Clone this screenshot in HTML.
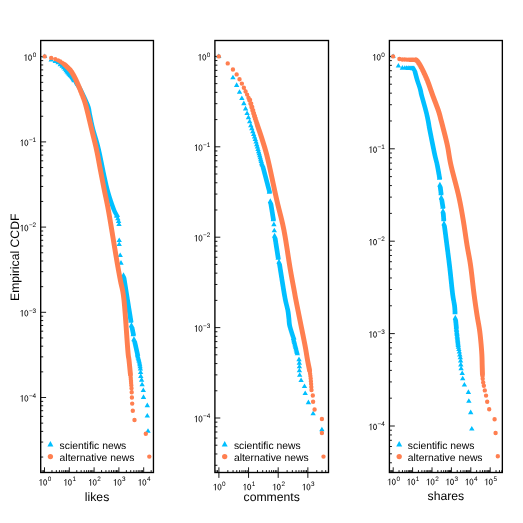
<!DOCTYPE html>
<html><head><meta charset="utf-8"><title>Empirical CCDF</title>
<style>
html,body{margin:0;padding:0;background:#fff;}
svg{display:block;}
text{font-family:"Liberation Sans", sans-serif;fill:#000;text-rendering:geometricPrecision;filter:grayscale(1);}
.t{font-size:9.30px}.s{font-size:6.50px}.g{font-size:10.35px}.a{font-size:12.20px}
</style></head><body>
<svg width="523" height="523" viewBox="0 0 523 523">
<rect width="523" height="523" fill="#fff"/>
<path d="M42.10 472.50V470.10M43.37 472.50V470.10M44.50 472.50V467.30M51.97 472.50V470.10M56.33 472.50V470.10M59.43 472.50V470.10M61.83 472.50V470.10M63.80 472.50V470.10M65.46 472.50V470.10M66.90 472.50V470.10M68.17 472.50V470.10M69.30 472.50V467.30M76.77 472.50V470.10M81.13 472.50V470.10M84.23 472.50V470.10M86.63 472.50V470.10M88.60 472.50V470.10M90.26 472.50V470.10M91.70 472.50V470.10M92.97 472.50V470.10M94.10 472.50V467.30M101.57 472.50V470.10M105.93 472.50V470.10M109.03 472.50V470.10M111.43 472.50V470.10M113.40 472.50V470.10M115.06 472.50V470.10M116.50 472.50V470.10M117.77 472.50V470.10M118.90 472.50V467.30M126.37 472.50V470.10M130.73 472.50V470.10M133.83 472.50V470.10M136.23 472.50V470.10M138.20 472.50V470.10M139.86 472.50V470.10M141.30 472.50V470.10M142.57 472.50V470.10M143.70 472.50V467.30M151.17 472.50V470.10M40.70 457.05H43.20M40.70 442.05H43.20M40.70 431.40H43.20M40.70 423.15H43.20M40.70 416.40H43.20M40.70 410.70H43.20M40.70 405.76H43.20M40.70 401.40H43.20M40.70 397.50H46.10M40.70 371.85H43.20M40.70 356.85H43.20M40.70 346.20H43.20M40.70 337.95H43.20M40.70 331.20H43.20M40.70 325.50H43.20M40.70 320.56H43.20M40.70 316.20H43.20M40.70 312.30H46.10M40.70 286.65H43.20M40.70 271.65H43.20M40.70 261.00H43.20M40.70 252.75H43.20M40.70 246.00H43.20M40.70 240.30H43.20M40.70 235.36H43.20M40.70 231.00H43.20M40.70 227.10H46.10M40.70 201.45H43.20M40.70 186.45H43.20M40.70 175.80H43.20M40.70 167.55H43.20M40.70 160.80H43.20M40.70 155.10H43.20M40.70 150.16H43.20M40.70 145.80H43.20M40.70 141.90H46.10M40.70 116.25H43.20M40.70 101.25H43.20M40.70 90.60H43.20M40.70 82.35H43.20M40.70 75.60H43.20M40.70 69.90H43.20M40.70 64.96H43.20M40.70 60.60H43.20M40.70 56.70H46.10" fill="none" stroke="#000" stroke-width="0.9"/>
<path d="M62.01 63.37l2.50 4.50h-5.00zM63.51 64.81l2.50 4.50h-5.00zM64.80 66.23l2.50 4.50h-5.00zM65.94 67.73l2.50 4.50h-5.00zM66.96 68.94l2.50 4.50h-5.00zM67.88 70.02l2.50 4.50h-5.00zM68.73 70.98l2.50 4.50h-5.00zM69.50 71.84l2.50 4.50h-5.00zM70.22 72.56l2.50 4.50h-5.00zM70.89 73.15l2.50 4.50h-5.00zM71.51 73.79l2.50 4.50h-5.00zM72.10 74.59l2.50 4.50h-5.00zM72.65 75.47l2.50 4.50h-5.00zM73.18 76.32l2.50 4.50h-5.00zM73.67 77.10l2.50 4.50h-5.00zM74.15 77.85l2.50 4.50h-5.00zM75.95 78.56l2.50 4.50h-5.00zM76.35 79.21l2.50 4.50h-5.00zM76.54 79.50l2.50 4.50h-5.00zM76.73 79.80l2.50 4.50h-5.00zM76.92 80.10l2.50 4.50h-5.00zM77.11 80.39l2.50 4.50h-5.00zM77.30 80.69l2.50 4.50h-5.00zM77.49 80.98l2.50 4.50h-5.00zM77.69 81.28l2.50 4.50h-5.00zM77.88 81.57l2.50 4.50h-5.00zM78.09 81.87l2.50 4.50h-5.00zM78.29 82.16l2.50 4.50h-5.00zM78.51 82.45l2.50 4.50h-5.00zM78.73 82.74l2.50 4.50h-5.00zM78.96 83.03l2.50 4.50h-5.00zM79.19 83.32l2.50 4.50h-5.00zM79.41 83.60l2.50 4.50h-5.00zM79.63 83.88l2.50 4.50h-5.00zM79.84 84.17l2.50 4.50h-5.00zM80.04 84.45l2.50 4.50h-5.00zM80.23 84.73l2.50 4.50h-5.00zM80.40 85.02l2.50 4.50h-5.00zM80.57 85.30l2.50 4.50h-5.00zM80.73 85.59l2.50 4.50h-5.00zM80.88 85.89l2.50 4.50h-5.00zM81.02 86.18l2.50 4.50h-5.00zM81.18 86.48l2.50 4.50h-5.00zM81.31 86.78l2.50 4.50h-5.00zM81.45 87.08l2.50 4.50h-5.00zM81.60 87.39l2.50 4.50h-5.00zM81.75 87.69l2.50 4.50h-5.00zM81.89 88.00l2.50 4.50h-5.00zM82.03 88.31l2.50 4.50h-5.00zM82.19 88.62l2.50 4.50h-5.00zM82.34 88.93l2.50 4.50h-5.00zM82.49 89.24l2.50 4.50h-5.00zM82.64 89.55l2.50 4.50h-5.00zM82.79 89.86l2.50 4.50h-5.00zM82.94 90.17l2.50 4.50h-5.00zM83.09 90.49l2.50 4.50h-5.00zM83.24 90.80l2.50 4.50h-5.00zM83.39 91.11l2.50 4.50h-5.00zM83.54 91.43l2.50 4.50h-5.00zM83.69 91.74l2.50 4.50h-5.00zM83.83 92.06l2.50 4.50h-5.00zM83.98 92.37l2.50 4.50h-5.00zM84.13 92.69l2.50 4.50h-5.00zM84.27 93.00l2.50 4.50h-5.00zM84.42 93.32l2.50 4.50h-5.00zM84.57 93.63l2.50 4.50h-5.00zM84.71 93.95l2.50 4.50h-5.00zM84.85 94.27l2.50 4.50h-5.00zM85.00 94.58l2.50 4.50h-5.00zM85.14 94.90l2.50 4.50h-5.00zM85.29 95.22l2.50 4.50h-5.00zM85.43 95.54l2.50 4.50h-5.00zM85.57 95.85l2.50 4.50h-5.00zM85.71 96.17l2.50 4.50h-5.00zM85.85 96.49l2.50 4.50h-5.00zM85.99 96.81l2.50 4.50h-5.00zM86.13 97.13l2.50 4.50h-5.00zM86.27 97.45l2.50 4.50h-5.00zM86.41 97.77l2.50 4.50h-5.00zM86.55 98.09l2.50 4.50h-5.00zM86.69 98.41l2.50 4.50h-5.00zM86.82 98.73l2.50 4.50h-5.00zM86.96 99.04l2.50 4.50h-5.00zM87.09 99.37l2.50 4.50h-5.00zM87.22 99.69l2.50 4.50h-5.00zM87.34 100.01l2.50 4.50h-5.00zM87.47 100.33l2.50 4.50h-5.00zM87.59 100.65l2.50 4.50h-5.00zM87.71 100.98l2.50 4.50h-5.00zM87.82 101.30l2.50 4.50h-5.00zM87.93 101.63l2.50 4.50h-5.00zM88.04 101.96l2.50 4.50h-5.00zM88.14 102.28l2.50 4.50h-5.00zM88.23 102.61l2.50 4.50h-5.00zM88.34 102.94l2.50 4.50h-5.00zM88.43 103.27l2.50 4.50h-5.00zM88.50 103.61l2.50 4.50h-5.00zM88.58 103.94l2.50 4.50h-5.00zM88.67 104.27l2.50 4.50h-5.00zM88.74 104.61l2.50 4.50h-5.00zM88.79 104.95l2.50 4.50h-5.00zM88.86 105.28l2.50 4.50h-5.00zM88.92 105.62l2.50 4.50h-5.00zM88.96 105.96l2.50 4.50h-5.00zM89.01 106.30l2.50 4.50h-5.00zM89.06 106.65l2.50 4.50h-5.00zM89.11 106.99l2.50 4.50h-5.00zM89.16 107.33l2.50 4.50h-5.00zM89.21 107.68l2.50 4.50h-5.00zM89.27 108.02l2.50 4.50h-5.00zM89.32 108.37l2.50 4.50h-5.00zM89.38 108.71l2.50 4.50h-5.00zM89.45 109.06l2.50 4.50h-5.00zM89.52 109.40l2.50 4.50h-5.00zM89.59 109.75l2.50 4.50h-5.00zM89.66 110.09l2.50 4.50h-5.00zM89.73 110.43l2.50 4.50h-5.00zM89.81 110.78l2.50 4.50h-5.00zM89.89 111.12l2.50 4.50h-5.00zM89.96 111.46l2.50 4.50h-5.00zM90.03 111.81l2.50 4.50h-5.00zM90.10 112.15l2.50 4.50h-5.00zM90.17 112.49l2.50 4.50h-5.00zM90.25 112.83l2.50 4.50h-5.00zM90.31 113.18l2.50 4.50h-5.00zM90.38 113.52l2.50 4.50h-5.00zM90.45 113.86l2.50 4.50h-5.00zM90.52 114.21l2.50 4.50h-5.00zM90.58 114.55l2.50 4.50h-5.00zM90.65 114.89l2.50 4.50h-5.00zM90.72 115.24l2.50 4.50h-5.00zM90.79 115.58l2.50 4.50h-5.00zM90.86 115.92l2.50 4.50h-5.00zM90.93 116.26l2.50 4.50h-5.00zM91.00 116.61l2.50 4.50h-5.00zM91.07 116.95l2.50 4.50h-5.00zM91.14 117.29l2.50 4.50h-5.00zM91.21 117.64l2.50 4.50h-5.00zM91.28 117.98l2.50 4.50h-5.00zM91.36 118.32l2.50 4.50h-5.00zM91.43 118.67l2.50 4.50h-5.00zM91.51 119.01l2.50 4.50h-5.00zM91.58 119.35l2.50 4.50h-5.00zM91.66 119.69l2.50 4.50h-5.00zM91.73 120.04l2.50 4.50h-5.00zM91.81 120.38l2.50 4.50h-5.00zM91.89 120.72l2.50 4.50h-5.00zM91.97 121.06l2.50 4.50h-5.00zM92.05 121.40l2.50 4.50h-5.00zM92.13 121.74l2.50 4.50h-5.00zM92.21 122.09l2.50 4.50h-5.00zM92.29 122.43l2.50 4.50h-5.00zM92.38 122.77l2.50 4.50h-5.00zM92.46 123.11l2.50 4.50h-5.00zM92.55 123.45l2.50 4.50h-5.00zM92.64 123.79l2.50 4.50h-5.00zM92.73 124.13l2.50 4.50h-5.00zM92.81 124.47l2.50 4.50h-5.00zM92.90 124.81l2.50 4.50h-5.00zM92.99 125.15l2.50 4.50h-5.00zM93.08 125.49l2.50 4.50h-5.00zM93.18 125.83l2.50 4.50h-5.00zM93.28 126.17l2.50 4.50h-5.00zM93.38 126.51l2.50 4.50h-5.00zM93.48 126.84l2.50 4.50h-5.00zM93.57 127.18l2.50 4.50h-5.00zM93.66 127.52l2.50 4.50h-5.00zM93.76 127.86l2.50 4.50h-5.00zM93.86 128.19l2.50 4.50h-5.00zM93.96 128.53l2.50 4.50h-5.00zM94.06 128.87l2.50 4.50h-5.00zM94.17 129.20l2.50 4.50h-5.00zM94.27 129.54l2.50 4.50h-5.00zM94.37 129.88l2.50 4.50h-5.00zM94.47 130.21l2.50 4.50h-5.00zM94.57 130.55l2.50 4.50h-5.00zM94.67 130.88l2.50 4.50h-5.00zM94.77 131.22l2.50 4.50h-5.00zM94.87 131.56l2.50 4.50h-5.00zM94.98 131.89l2.50 4.50h-5.00zM95.08 132.23l2.50 4.50h-5.00zM95.18 132.56l2.50 4.50h-5.00zM95.28 132.90l2.50 4.50h-5.00zM95.39 133.23l2.50 4.50h-5.00zM95.49 133.57l2.50 4.50h-5.00zM95.59 133.90l2.50 4.50h-5.00zM95.68 134.24l2.50 4.50h-5.00zM95.78 134.57l2.50 4.50h-5.00zM95.88 134.91l2.50 4.50h-5.00zM95.98 135.24l2.50 4.50h-5.00zM96.07 135.58l2.50 4.50h-5.00zM96.17 135.92l2.50 4.50h-5.00zM96.27 136.25l2.50 4.50h-5.00zM96.37 136.59l2.50 4.50h-5.00zM96.47 136.92l2.50 4.50h-5.00zM96.56 137.26l2.50 4.50h-5.00zM96.65 137.59l2.50 4.50h-5.00zM96.75 137.93l2.50 4.50h-5.00zM96.84 138.27l2.50 4.50h-5.00zM96.93 138.60l2.50 4.50h-5.00zM97.01 138.94l2.50 4.50h-5.00zM97.10 139.28l2.50 4.50h-5.00zM97.20 139.62l2.50 4.50h-5.00zM97.29 139.95l2.50 4.50h-5.00zM97.38 140.29l2.50 4.50h-5.00zM97.48 140.63l2.50 4.50h-5.00zM97.56 140.97l2.50 4.50h-5.00zM97.65 141.30l2.50 4.50h-5.00zM97.73 141.64l2.50 4.50h-5.00zM97.81 141.98l2.50 4.50h-5.00zM97.89 142.32l2.50 4.50h-5.00zM97.97 142.66l2.50 4.50h-5.00zM98.05 143.00l2.50 4.50h-5.00zM98.13 143.34l2.50 4.50h-5.00zM98.22 143.68l2.50 4.50h-5.00zM98.30 144.02l2.50 4.50h-5.00zM98.39 144.35l2.50 4.50h-5.00zM98.48 144.69l2.50 4.50h-5.00zM98.55 145.03l2.50 4.50h-5.00zM98.63 145.37l2.50 4.50h-5.00zM98.71 145.71l2.50 4.50h-5.00zM98.77 146.05l2.50 4.50h-5.00zM98.84 146.39l2.50 4.50h-5.00zM98.91 146.74l2.50 4.50h-5.00zM98.99 147.08l2.50 4.50h-5.00zM99.06 147.42l2.50 4.50h-5.00zM99.14 147.76l2.50 4.50h-5.00zM99.22 148.10l2.50 4.50h-5.00zM99.30 148.44l2.50 4.50h-5.00zM99.37 148.78l2.50 4.50h-5.00zM99.45 149.13l2.50 4.50h-5.00zM99.53 149.47l2.50 4.50h-5.00zM99.60 149.81l2.50 4.50h-5.00zM99.67 150.15l2.50 4.50h-5.00zM99.74 150.49l2.50 4.50h-5.00zM99.81 150.83l2.50 4.50h-5.00zM99.87 151.18l2.50 4.50h-5.00zM99.94 151.52l2.50 4.50h-5.00zM100.02 151.86l2.50 4.50h-5.00zM100.09 152.20l2.50 4.50h-5.00zM100.16 152.55l2.50 4.50h-5.00zM100.23 152.89l2.50 4.50h-5.00zM100.31 153.23l2.50 4.50h-5.00zM100.38 153.57l2.50 4.50h-5.00zM100.45 153.92l2.50 4.50h-5.00zM100.52 154.26l2.50 4.50h-5.00zM100.59 154.60l2.50 4.50h-5.00zM100.66 154.94l2.50 4.50h-5.00zM100.73 155.29l2.50 4.50h-5.00zM100.80 155.63l2.50 4.50h-5.00zM100.87 155.97l2.50 4.50h-5.00zM100.94 156.31l2.50 4.50h-5.00zM101.01 156.66l2.50 4.50h-5.00zM101.08 157.00l2.50 4.50h-5.00zM101.15 157.34l2.50 4.50h-5.00zM101.22 157.69l2.50 4.50h-5.00zM101.29 158.03l2.50 4.50h-5.00zM101.36 158.37l2.50 4.50h-5.00zM101.43 158.71l2.50 4.50h-5.00zM101.50 159.06l2.50 4.50h-5.00zM101.57 159.40l2.50 4.50h-5.00zM101.64 159.74l2.50 4.50h-5.00zM101.71 160.09l2.50 4.50h-5.00zM101.78 160.43l2.50 4.50h-5.00zM101.85 160.77l2.50 4.50h-5.00zM101.92 161.11l2.50 4.50h-5.00zM101.98 161.46l2.50 4.50h-5.00zM102.05 161.80l2.50 4.50h-5.00zM102.12 162.14l2.50 4.50h-5.00zM102.19 162.49l2.50 4.50h-5.00zM102.26 162.83l2.50 4.50h-5.00zM102.33 163.17l2.50 4.50h-5.00zM102.40 163.52l2.50 4.50h-5.00zM102.47 163.86l2.50 4.50h-5.00zM102.54 164.20l2.50 4.50h-5.00zM102.61 164.54l2.50 4.50h-5.00zM102.68 164.89l2.50 4.50h-5.00zM102.75 165.23l2.50 4.50h-5.00zM102.82 165.57l2.50 4.50h-5.00zM102.89 165.92l2.50 4.50h-5.00zM102.96 166.26l2.50 4.50h-5.00zM103.03 166.60l2.50 4.50h-5.00zM103.10 166.95l2.50 4.50h-5.00zM103.17 167.29l2.50 4.50h-5.00zM103.24 167.63l2.50 4.50h-5.00zM103.31 167.97l2.50 4.50h-5.00zM103.38 168.32l2.50 4.50h-5.00zM103.45 168.66l2.50 4.50h-5.00zM103.52 169.00l2.50 4.50h-5.00zM103.59 169.35l2.50 4.50h-5.00zM103.66 169.69l2.50 4.50h-5.00zM103.73 170.03l2.50 4.50h-5.00zM103.80 170.37l2.50 4.50h-5.00zM103.87 170.72l2.50 4.50h-5.00zM103.95 171.06l2.50 4.50h-5.00zM104.02 171.40l2.50 4.50h-5.00zM104.10 171.75l2.50 4.50h-5.00zM104.17 172.09l2.50 4.50h-5.00zM104.25 172.43l2.50 4.50h-5.00zM104.32 172.77l2.50 4.50h-5.00zM104.40 173.12l2.50 4.50h-5.00zM104.47 173.46l2.50 4.50h-5.00zM104.54 173.80l2.50 4.50h-5.00zM104.62 174.14l2.50 4.50h-5.00zM104.69 174.48l2.50 4.50h-5.00zM104.76 174.83l2.50 4.50h-5.00zM104.84 175.17l2.50 4.50h-5.00zM104.92 175.51l2.50 4.50h-5.00zM104.99 175.85l2.50 4.50h-5.00zM105.07 176.19l2.50 4.50h-5.00zM105.15 176.54l2.50 4.50h-5.00zM105.23 176.88l2.50 4.50h-5.00zM105.31 177.22l2.50 4.50h-5.00zM105.38 177.56l2.50 4.50h-5.00zM105.46 177.90l2.50 4.50h-5.00zM105.54 178.24l2.50 4.50h-5.00zM105.61 178.59l2.50 4.50h-5.00zM105.69 178.93l2.50 4.50h-5.00zM105.77 179.27l2.50 4.50h-5.00zM105.85 179.61l2.50 4.50h-5.00zM105.93 179.95l2.50 4.50h-5.00zM106.01 180.29l2.50 4.50h-5.00zM106.08 180.63l2.50 4.50h-5.00zM106.16 180.98l2.50 4.50h-5.00zM106.24 181.32l2.50 4.50h-5.00zM106.33 181.66l2.50 4.50h-5.00zM106.41 182.00l2.50 4.50h-5.00zM106.49 182.34l2.50 4.50h-5.00zM106.58 182.68l2.50 4.50h-5.00zM106.66 183.02l2.50 4.50h-5.00zM106.74 183.36l2.50 4.50h-5.00zM106.83 183.70l2.50 4.50h-5.00zM106.92 184.04l2.50 4.50h-5.00zM107.01 184.38l2.50 4.50h-5.00zM107.10 184.72l2.50 4.50h-5.00zM107.19 185.06l2.50 4.50h-5.00zM107.28 185.40l2.50 4.50h-5.00zM107.37 185.74l2.50 4.50h-5.00zM107.46 186.08l2.50 4.50h-5.00zM107.56 186.42l2.50 4.50h-5.00zM107.65 186.76l2.50 4.50h-5.00zM107.75 187.09l2.50 4.50h-5.00zM107.85 187.43l2.50 4.50h-5.00zM107.95 187.77l2.50 4.50h-5.00zM108.04 188.11l2.50 4.50h-5.00zM108.14 188.44l2.50 4.50h-5.00zM108.24 188.78l2.50 4.50h-5.00zM108.34 189.12l2.50 4.50h-5.00zM108.44 189.45l2.50 4.50h-5.00zM108.54 189.79l2.50 4.50h-5.00zM108.64 190.13l2.50 4.50h-5.00zM108.75 190.46l2.50 4.50h-5.00zM108.85 190.80l2.50 4.50h-5.00zM108.95 191.14l2.50 4.50h-5.00zM109.06 191.47l2.50 4.50h-5.00zM109.17 191.81l2.50 4.50h-5.00zM109.27 192.14l2.50 4.50h-5.00zM109.37 192.48l2.50 4.50h-5.00zM109.48 192.81l2.50 4.50h-5.00zM109.59 193.15l2.50 4.50h-5.00zM109.69 193.48l2.50 4.50h-5.00zM109.81 193.81l2.50 4.50h-5.00zM109.92 194.15l2.50 4.50h-5.00zM110.03 194.48l2.50 4.50h-5.00zM110.13 194.81l2.50 4.50h-5.00zM110.24 195.15l2.50 4.50h-5.00zM110.35 195.48l2.50 4.50h-5.00zM110.46 195.82l2.50 4.50h-5.00zM110.57 196.15l2.50 4.50h-5.00zM110.69 196.48l2.50 4.50h-5.00zM110.80 196.81l2.50 4.50h-5.00zM110.92 197.15l2.50 4.50h-5.00zM111.03 197.48l2.50 4.50h-5.00zM111.14 197.81l2.50 4.50h-5.00zM111.25 198.14l2.50 4.50h-5.00zM111.36 198.47l2.50 4.50h-5.00zM111.48 198.81l2.50 4.50h-5.00zM111.59 199.14l2.50 4.50h-5.00zM111.71 199.47l2.50 4.50h-5.00zM111.83 199.80l2.50 4.50h-5.00zM111.95 200.13l2.50 4.50h-5.00zM112.06 200.46l2.50 4.50h-5.00zM112.17 200.79l2.50 4.50h-5.00zM112.29 201.12l2.50 4.50h-5.00zM112.41 201.46l2.50 4.50h-5.00zM112.53 201.79l2.50 4.50h-5.00zM112.65 202.12l2.50 4.50h-5.00zM112.77 202.45l2.50 4.50h-5.00zM112.90 202.78l2.50 4.50h-5.00zM113.01 203.10l2.50 4.50h-5.00zM113.13 203.43l2.50 4.50h-5.00zM113.26 203.76l2.50 4.50h-5.00zM113.38 204.09l2.50 4.50h-5.00zM113.51 204.42l2.50 4.50h-5.00zM113.64 204.75l2.50 4.50h-5.00zM113.76 205.08l2.50 4.50h-5.00zM113.89 205.41l2.50 4.50h-5.00zM114.03 205.73l2.50 4.50h-5.00zM114.16 206.06l2.50 4.50h-5.00zM114.30 206.39l2.50 4.50h-5.00zM114.45 206.71l2.50 4.50h-5.00zM114.59 207.04l2.50 4.50h-5.00zM114.75 207.36l2.50 4.50h-5.00zM114.90 207.69l2.50 4.50h-5.00zM115.05 208.01l2.50 4.50h-5.00zM115.22 208.33l2.50 4.50h-5.00zM115.39 208.64l2.50 4.50h-5.00zM115.57 208.96l2.50 4.50h-5.00zM115.73 209.28l2.50 4.50h-5.00zM115.90 209.60l2.50 4.50h-5.00zM116.08 209.91l2.50 4.50h-5.00zM116.27 210.22l2.50 4.50h-5.00zM116.45 210.53l2.50 4.50h-5.00zM116.63 210.84l2.50 4.50h-5.00zM116.81 211.15l2.50 4.50h-5.00zM117.00 211.46l2.50 4.50h-5.00zM117.17 211.77l2.50 4.50h-5.00zM117.34 212.07l2.50 4.50h-5.00zM117.50 212.38l2.50 4.50h-5.00zM116.50 212.68l2.50 4.50h-5.00zM116.67 212.99l2.50 4.50h-5.00zM116.80 213.25l2.50 4.50h-5.00zM123.50 272.35l2.50 4.50h-5.00zM123.50 272.53l2.50 4.50h-5.00zM123.54 272.88l2.50 4.50h-5.00zM123.88 273.23l2.50 4.50h-5.00zM123.97 273.57l2.50 4.50h-5.00zM124.03 273.92l2.50 4.50h-5.00zM124.08 274.26l2.50 4.50h-5.00zM124.14 274.61l2.50 4.50h-5.00zM124.19 274.96l2.50 4.50h-5.00zM124.25 275.30l2.50 4.50h-5.00zM124.31 275.65l2.50 4.50h-5.00zM124.36 275.99l2.50 4.50h-5.00zM124.42 276.34l2.50 4.50h-5.00zM124.47 276.68l2.50 4.50h-5.00zM124.53 277.03l2.50 4.50h-5.00zM124.58 277.38l2.50 4.50h-5.00zM124.64 277.72l2.50 4.50h-5.00zM124.69 278.07l2.50 4.50h-5.00zM124.75 278.41l2.50 4.50h-5.00zM124.80 278.76l2.50 4.50h-5.00zM124.86 279.10l2.50 4.50h-5.00zM124.91 279.45l2.50 4.50h-5.00zM124.97 279.79l2.50 4.50h-5.00zM125.03 280.14l2.50 4.50h-5.00zM125.08 280.49l2.50 4.50h-5.00zM125.14 280.83l2.50 4.50h-5.00zM125.19 281.18l2.50 4.50h-5.00zM125.25 281.52l2.50 4.50h-5.00zM125.30 281.87l2.50 4.50h-5.00zM125.36 282.21l2.50 4.50h-5.00zM125.41 282.56l2.50 4.50h-5.00zM125.47 282.91l2.50 4.50h-5.00zM125.52 283.25l2.50 4.50h-5.00zM125.58 283.60l2.50 4.50h-5.00zM125.63 283.94l2.50 4.50h-5.00zM125.69 284.29l2.50 4.50h-5.00zM125.75 284.63l2.50 4.50h-5.00zM125.80 284.98l2.50 4.50h-5.00zM125.86 285.32l2.50 4.50h-5.00zM125.91 285.67l2.50 4.50h-5.00zM125.97 286.02l2.50 4.50h-5.00zM126.02 286.36l2.50 4.50h-5.00zM126.08 286.71l2.50 4.50h-5.00zM126.13 287.05l2.50 4.50h-5.00zM126.19 287.40l2.50 4.50h-5.00zM126.24 287.74l2.50 4.50h-5.00zM126.30 288.09l2.50 4.50h-5.00zM126.35 288.43l2.50 4.50h-5.00zM126.41 288.78l2.50 4.50h-5.00zM126.47 289.13l2.50 4.50h-5.00zM126.52 289.47l2.50 4.50h-5.00zM126.58 289.82l2.50 4.50h-5.00zM126.63 290.16l2.50 4.50h-5.00zM126.69 290.51l2.50 4.50h-5.00zM126.74 290.85l2.50 4.50h-5.00zM126.80 291.20l2.50 4.50h-5.00zM126.85 291.54l2.50 4.50h-5.00zM126.91 291.89l2.50 4.50h-5.00zM126.97 292.24l2.50 4.50h-5.00zM127.02 292.58l2.50 4.50h-5.00zM127.08 292.93l2.50 4.50h-5.00zM127.13 293.27l2.50 4.50h-5.00zM127.19 293.62l2.50 4.50h-5.00zM127.24 293.96l2.50 4.50h-5.00zM127.30 294.31l2.50 4.50h-5.00zM127.35 294.66l2.50 4.50h-5.00zM127.41 295.00l2.50 4.50h-5.00zM127.46 295.35l2.50 4.50h-5.00zM127.52 295.69l2.50 4.50h-5.00zM127.58 296.04l2.50 4.50h-5.00zM127.63 296.38l2.50 4.50h-5.00zM127.69 296.73l2.50 4.50h-5.00zM127.74 297.07l2.50 4.50h-5.00zM127.80 297.42l2.50 4.50h-5.00zM127.85 297.77l2.50 4.50h-5.00zM127.91 298.11l2.50 4.50h-5.00zM127.96 298.46l2.50 4.50h-5.00zM128.02 298.80l2.50 4.50h-5.00zM128.08 299.15l2.50 4.50h-5.00zM128.13 299.49l2.50 4.50h-5.00zM128.19 299.84l2.50 4.50h-5.00zM128.24 300.18l2.50 4.50h-5.00zM128.30 300.53l2.50 4.50h-5.00zM128.35 300.88l2.50 4.50h-5.00zM128.41 301.22l2.50 4.50h-5.00zM128.46 301.57l2.50 4.50h-5.00zM128.52 301.91l2.50 4.50h-5.00zM128.58 302.26l2.50 4.50h-5.00zM128.63 302.60l2.50 4.50h-5.00zM128.69 302.95l2.50 4.50h-5.00zM128.74 303.29l2.50 4.50h-5.00zM128.80 303.64l2.50 4.50h-5.00zM128.85 303.99l2.50 4.50h-5.00zM128.91 304.33l2.50 4.50h-5.00zM128.96 304.68l2.50 4.50h-5.00zM129.02 305.02l2.50 4.50h-5.00zM129.08 305.37l2.50 4.50h-5.00zM129.13 305.71l2.50 4.50h-5.00zM129.19 306.06l2.50 4.50h-5.00zM129.24 306.40l2.50 4.50h-5.00zM129.30 306.75l2.50 4.50h-5.00zM129.35 307.10l2.50 4.50h-5.00zM129.41 307.44l2.50 4.50h-5.00zM129.46 307.79l2.50 4.50h-5.00zM129.52 308.13l2.50 4.50h-5.00zM129.58 308.48l2.50 4.50h-5.00zM129.63 308.82l2.50 4.50h-5.00zM129.69 309.17l2.50 4.50h-5.00zM129.74 309.51l2.50 4.50h-5.00zM129.80 309.86l2.50 4.50h-5.00zM129.85 310.21l2.50 4.50h-5.00zM129.91 310.55l2.50 4.50h-5.00zM129.96 310.90l2.50 4.50h-5.00zM130.02 311.24l2.50 4.50h-5.00zM130.08 311.59l2.50 4.50h-5.00zM130.13 311.93l2.50 4.50h-5.00zM130.19 312.28l2.50 4.50h-5.00zM130.24 312.62l2.50 4.50h-5.00zM130.30 312.97l2.50 4.50h-5.00zM130.35 313.32l2.50 4.50h-5.00zM130.41 313.66l2.50 4.50h-5.00zM130.46 314.01l2.50 4.50h-5.00zM130.52 314.35l2.50 4.50h-5.00zM130.57 314.70l2.50 4.50h-5.00zM130.63 315.04l2.50 4.50h-5.00zM130.69 315.39l2.50 4.50h-5.00zM130.74 315.73l2.50 4.50h-5.00zM130.80 316.08l2.50 4.50h-5.00zM130.85 316.43l2.50 4.50h-5.00zM130.91 316.77l2.50 4.50h-5.00zM130.96 317.12l2.50 4.50h-5.00zM131.02 317.46l2.50 4.50h-5.00zM130.73 317.81l2.50 4.50h-5.00zM130.78 318.15l2.50 4.50h-5.00zM130.80 318.25l2.50 4.50h-5.00zM131.40 322.25l2.50 4.50h-5.00zM131.47 322.59l2.50 4.50h-5.00zM131.54 322.94l2.50 4.50h-5.00zM132.04 323.28l2.50 4.50h-5.00zM132.10 323.62l2.50 4.50h-5.00zM132.17 323.97l2.50 4.50h-5.00zM132.24 324.31l2.50 4.50h-5.00zM132.31 324.65l2.50 4.50h-5.00zM132.38 325.00l2.50 4.50h-5.00zM132.45 325.34l2.50 4.50h-5.00zM132.52 325.68l2.50 4.50h-5.00zM132.59 326.03l2.50 4.50h-5.00zM132.65 326.37l2.50 4.50h-5.00zM132.72 326.71l2.50 4.50h-5.00zM132.79 327.05l2.50 4.50h-5.00zM132.86 327.40l2.50 4.50h-5.00zM132.93 327.74l2.50 4.50h-5.00zM133.00 328.08l2.50 4.50h-5.00zM133.07 328.43l2.50 4.50h-5.00zM133.13 328.77l2.50 4.50h-5.00zM133.20 329.11l2.50 4.50h-5.00zM133.27 329.46l2.50 4.50h-5.00zM133.34 329.80l2.50 4.50h-5.00zM133.41 330.14l2.50 4.50h-5.00zM133.48 330.49l2.50 4.50h-5.00zM133.55 330.83l2.50 4.50h-5.00zM133.18 331.17l2.50 4.50h-5.00zM133.25 331.52l2.50 4.50h-5.00zM133.30 331.75l2.50 4.50h-5.00zM133.90 336.25l2.50 4.50h-5.00zM133.98 336.59l2.50 4.50h-5.00zM134.06 336.93l2.50 4.50h-5.00zM134.64 337.27l2.50 4.50h-5.00zM134.72 337.61l2.50 4.50h-5.00zM134.80 337.95l2.50 4.50h-5.00zM134.87 338.30l2.50 4.50h-5.00zM134.95 338.64l2.50 4.50h-5.00zM135.03 338.98l2.50 4.50h-5.00zM135.11 339.32l2.50 4.50h-5.00zM135.19 339.66l2.50 4.50h-5.00zM135.27 340.00l2.50 4.50h-5.00zM135.34 340.34l2.50 4.50h-5.00zM135.42 340.68l2.50 4.50h-5.00zM135.50 341.02l2.50 4.50h-5.00zM135.58 341.36l2.50 4.50h-5.00zM135.65 341.71l2.50 4.50h-5.00zM135.73 342.05l2.50 4.50h-5.00zM135.81 342.39l2.50 4.50h-5.00zM135.88 342.73l2.50 4.50h-5.00zM135.96 343.07l2.50 4.50h-5.00zM136.03 343.41l2.50 4.50h-5.00zM136.11 343.75l2.50 4.50h-5.00zM136.19 344.10l2.50 4.50h-5.00zM136.26 344.44l2.50 4.50h-5.00zM136.34 344.78l2.50 4.50h-5.00zM136.41 345.12l2.50 4.50h-5.00zM136.49 345.46l2.50 4.50h-5.00zM136.57 345.80l2.50 4.50h-5.00zM136.64 346.14l2.50 4.50h-5.00zM136.72 346.49l2.50 4.50h-5.00zM136.79 346.83l2.50 4.50h-5.00zM136.87 347.17l2.50 4.50h-5.00zM136.95 347.51l2.50 4.50h-5.00zM137.02 347.85l2.50 4.50h-5.00zM137.10 348.19l2.50 4.50h-5.00zM137.17 348.54l2.50 4.50h-5.00zM137.25 348.88l2.50 4.50h-5.00zM137.33 349.22l2.50 4.50h-5.00zM137.40 349.56l2.50 4.50h-5.00zM137.48 349.90l2.50 4.50h-5.00zM137.55 350.24l2.50 4.50h-5.00zM137.63 350.59l2.50 4.50h-5.00zM137.71 350.93l2.50 4.50h-5.00zM137.78 351.27l2.50 4.50h-5.00zM137.38 351.61l2.50 4.50h-5.00zM137.46 351.95l2.50 4.50h-5.00zM137.50 352.15l2.50 4.50h-5.00zM44.66 53.40l2.70 4.60h-5.40zM51.20 57.00l2.70 4.60h-5.40zM55.30 58.28l2.70 4.60h-5.40zM58.09 59.66l2.70 4.60h-5.40zM60.25 61.70l2.70 4.60h-5.40zM117.80 215.70l2.70 4.60h-5.40zM118.60 218.30l2.70 4.60h-5.40zM119.00 221.50l2.70 4.60h-5.40zM119.20 237.50l2.70 4.60h-5.40zM119.20 241.40l2.70 4.60h-5.40zM120.20 252.40l2.70 4.60h-5.40zM121.00 260.10l2.70 4.60h-5.40zM137.90 353.60l2.70 4.60h-5.40zM138.30 355.10l2.70 4.60h-5.40zM138.70 356.60l2.70 4.60h-5.40zM139.10 358.20l2.70 4.60h-5.40zM139.50 359.90l2.70 4.60h-5.40zM139.80 361.70l2.70 4.60h-5.40zM140.10 363.70l2.70 4.60h-5.40zM140.40 365.90l2.70 4.60h-5.40zM140.60 369.50l2.70 4.60h-5.40zM140.80 373.30l2.70 4.60h-5.40zM141.60 377.10l2.70 4.60h-5.40zM142.10 381.70l2.70 4.60h-5.40zM143.30 387.50l2.70 4.60h-5.40zM143.50 394.30l2.70 4.60h-5.40zM147.30 402.60l2.70 4.60h-5.40zM147.30 413.00l2.70 4.60h-5.40zM148.00 428.20l2.70 4.60h-5.40z" fill="#00BFFF"/>
<path d="M64.80 64.77h0M65.94 65.73h0M66.96 66.67h0M67.88 67.56h0M68.73 68.40h0M69.50 69.22h0M70.22 70.05h0M70.89 70.92h0M71.51 71.82h0M72.10 72.73h0M72.65 73.65h0M73.18 74.57h0M73.67 75.46h0M74.15 76.34h0M74.60 77.19h0M75.00 77.98h0M75.16 78.30h0M75.31 78.61h0M75.47 78.93h0M75.62 79.24h0M75.77 79.56h0M75.92 79.87h0M76.07 80.19h0M76.22 80.51h0M76.36 80.82h0M76.51 81.14h0M76.65 81.46h0M76.80 81.78h0M76.94 82.10h0M77.08 82.42h0M77.23 82.74h0M77.37 83.06h0M77.51 83.38h0M77.65 83.70h0M77.79 84.02h0M77.93 84.34h0M78.07 84.66h0M78.21 84.98h0M78.34 85.31h0M78.48 85.63h0M78.62 85.95h0M78.75 86.27h0M78.89 86.60h0M79.02 86.92h0M79.16 87.24h0M79.29 87.56h0M79.43 87.89h0M79.56 88.21h0M79.69 88.54h0M79.82 88.86h0M79.96 89.18h0M80.09 89.51h0M80.22 89.83h0M80.35 90.16h0M80.48 90.48h0M80.61 90.81h0M80.74 91.13h0M80.87 91.46h0M81.00 91.78h0M81.13 92.11h0M81.26 92.43h0M81.39 92.76h0M81.51 93.08h0M81.64 93.41h0M81.77 93.73h0M81.90 94.06h0M82.03 94.38h0M82.16 94.71h0M82.29 95.03h0M82.42 95.36h0M82.55 95.68h0M82.68 96.01h0M82.81 96.33h0M82.94 96.66h0M83.07 96.99h0M83.20 97.31h0M83.32 97.64h0M83.45 97.97h0M83.57 98.29h0M83.69 98.62h0M83.81 98.95h0M83.93 99.28h0M84.05 99.61h0M84.16 99.94h0M84.27 100.27h0M84.38 100.60h0M84.50 100.94h0M84.60 101.27h0M84.71 101.60h0M84.81 101.94h0M84.92 102.27h0M85.02 102.61h0M85.12 102.94h0M85.22 103.28h0M85.32 103.61h0M85.42 103.95h0M85.51 104.28h0M85.61 104.62h0M85.70 104.96h0M85.79 105.30h0M85.88 105.63h0M85.97 105.97h0M86.06 106.31h0M86.15 106.65h0M86.24 106.99h0M86.32 107.33h0M86.41 107.67h0M86.50 108.01h0M86.58 108.35h0M86.67 108.69h0M86.75 109.02h0M86.84 109.36h0M86.92 109.70h0M87.01 110.04h0M87.09 110.38h0M87.18 110.72h0M87.26 111.06h0M87.35 111.40h0M87.43 111.74h0M87.51 112.08h0M87.60 112.42h0M87.68 112.76h0M87.76 113.10h0M87.85 113.44h0M87.93 113.78h0M88.01 114.12h0M88.09 114.46h0M88.18 114.80h0M88.26 115.14h0M88.34 115.48h0M88.42 115.82h0M88.50 116.16h0M88.58 116.50h0M88.67 116.84h0M88.75 117.18h0M88.83 117.52h0M88.91 117.87h0M88.99 118.21h0M89.07 118.55h0M89.15 118.89h0M89.24 119.23h0M89.32 119.57h0M89.40 119.91h0M89.48 120.25h0M89.56 120.59h0M89.64 120.93h0M89.72 121.27h0M89.80 121.61h0M89.88 121.95h0M89.96 122.29h0M90.04 122.63h0M90.13 122.97h0M90.21 123.31h0M90.29 123.65h0M90.37 123.99h0M90.45 124.33h0M90.53 124.68h0M90.61 125.02h0M90.69 125.36h0M90.77 125.70h0M90.85 126.04h0M90.93 126.38h0M91.02 126.72h0M91.10 127.06h0M91.18 127.40h0M91.26 127.74h0M91.34 128.08h0M91.42 128.42h0M91.50 128.76h0M91.59 129.10h0M91.67 129.44h0M91.75 129.78h0M91.83 130.12h0M91.91 130.46h0M92.00 130.80h0M92.08 131.14h0M92.16 131.48h0M92.24 131.82h0M92.33 132.16h0M92.41 132.50h0M92.49 132.84h0M92.57 133.18h0M92.66 133.52h0M92.74 133.86h0M92.83 134.20h0M92.91 134.54h0M92.99 134.88h0M93.08 135.22h0M93.16 135.56h0M93.25 135.90h0M93.33 136.24h0M93.42 136.58h0M93.50 136.92h0M93.58 137.26h0M93.67 137.60h0M93.75 137.94h0M93.84 138.28h0M93.92 138.62h0M94.00 138.96h0M94.09 139.30h0M94.17 139.64h0M94.26 139.98h0M94.34 140.32h0M94.42 140.66h0M94.51 141.00h0M94.59 141.34h0M94.67 141.68h0M94.75 142.02h0M94.84 142.36h0M94.92 142.70h0M95.00 143.04h0M95.08 143.38h0M95.16 143.72h0M95.24 144.06h0M95.33 144.40h0M95.41 144.74h0M95.49 145.08h0M95.57 145.42h0M95.65 145.76h0M95.73 146.10h0M95.81 146.44h0M95.88 146.79h0M95.96 147.13h0M96.04 147.47h0M96.11 147.81h0M96.19 148.15h0M96.26 148.49h0M96.34 148.84h0M96.42 149.18h0M96.49 149.52h0M96.57 149.86h0M96.64 150.20h0M96.71 150.55h0M96.78 150.89h0M96.85 151.23h0M96.93 151.57h0M97.00 151.92h0M97.07 152.26h0M97.14 152.60h0M97.21 152.94h0M97.28 153.29h0M97.35 153.63h0M97.41 153.97h0M97.48 154.32h0M97.55 154.66h0M97.61 155.01h0M97.68 155.35h0M97.75 155.69h0M97.81 156.04h0M97.88 156.38h0M97.95 156.72h0M98.01 157.07h0M98.08 157.41h0M98.14 157.76h0M98.20 158.10h0M98.27 158.44h0M98.33 158.79h0M98.40 159.13h0M98.46 159.48h0M98.52 159.82h0M98.59 160.16h0M98.65 160.51h0M98.71 160.85h0M98.77 161.20h0M98.84 161.54h0M98.90 161.89h0M98.96 162.23h0M99.02 162.57h0M99.09 162.92h0M99.15 163.26h0M99.21 163.61h0M99.28 163.95h0M99.34 164.30h0M99.40 164.64h0M99.46 164.99h0M99.53 165.33h0M99.59 165.67h0M99.65 166.02h0M99.72 166.36h0M99.78 166.71h0M99.84 167.05h0M99.91 167.39h0M99.97 167.74h0M100.04 168.08h0M100.10 168.43h0M100.17 168.77h0M100.23 169.11h0M100.30 169.46h0M100.36 169.80h0M100.43 170.15h0M100.49 170.49h0M100.56 170.83h0M100.63 171.18h0M100.69 171.52h0M100.76 171.86h0M100.83 172.21h0M100.89 172.55h0M100.96 172.90h0M101.02 173.24h0M101.09 173.58h0M101.16 173.93h0M101.22 174.27h0M101.29 174.61h0M101.36 174.96h0M101.42 175.30h0M101.49 175.64h0M101.56 175.99h0M101.62 176.33h0M101.69 176.68h0M101.76 177.02h0M101.82 177.36h0M101.89 177.71h0M101.96 178.05h0M102.02 178.39h0M102.09 178.74h0M102.16 179.08h0M102.22 179.42h0M102.29 179.77h0M102.36 180.11h0M102.43 180.45h0M102.49 180.80h0M102.56 181.14h0M102.63 181.48h0M102.69 181.83h0M102.76 182.17h0M102.83 182.52h0M102.90 182.86h0M102.96 183.20h0M103.03 183.55h0M103.10 183.89h0M103.16 184.23h0M103.23 184.58h0M103.30 184.92h0M103.37 185.26h0M103.43 185.61h0M103.50 185.95h0M103.57 186.29h0M103.64 186.64h0M103.70 186.98h0M103.77 187.32h0M103.84 187.67h0M103.91 188.01h0M103.98 188.35h0M104.04 188.70h0M104.11 189.04h0M104.18 189.38h0M104.25 189.73h0M104.31 190.07h0M104.38 190.41h0M104.45 190.76h0M104.52 191.10h0M104.59 191.44h0M104.66 191.79h0M104.73 192.13h0M104.80 192.47h0M104.87 192.81h0M104.94 193.16h0M105.02 193.50h0M105.09 193.84h0M105.16 194.18h0M105.23 194.53h0M105.31 194.87h0M105.38 195.21h0M105.45 195.55h0M105.53 195.90h0M105.60 196.24h0M105.67 196.58h0M105.75 196.92h0M105.82 197.26h0M105.89 197.61h0M105.97 197.95h0M106.04 198.29h0M106.11 198.63h0M106.19 198.98h0M106.26 199.32h0M106.33 199.66h0M106.40 200.00h0M106.47 200.35h0M106.54 200.69h0M106.61 201.03h0M106.68 201.38h0M106.75 201.72h0M106.82 202.06h0M106.89 202.40h0M106.96 202.75h0M107.03 203.09h0M107.10 203.43h0M107.16 203.78h0M107.23 204.12h0M107.30 204.46h0M107.36 204.81h0M107.43 205.15h0M107.50 205.49h0M107.56 205.84h0M107.63 206.18h0M107.70 206.53h0M107.76 206.87h0M107.83 207.21h0M107.89 207.56h0M107.95 207.90h0M108.02 208.25h0M108.08 208.59h0M108.14 208.94h0M108.20 209.28h0M108.27 209.62h0M108.33 209.97h0M108.39 210.31h0M108.46 210.66h0M108.52 211.00h0M108.58 211.35h0M108.64 211.69h0M108.71 212.03h0M108.77 212.38h0M108.82 212.72h0M108.88 213.07h0M108.94 213.41h0M109.00 213.76h0M109.06 214.10h0M109.12 214.45h0M109.18 214.79h0M109.24 215.14h0M109.30 215.48h0M109.36 215.83h0M109.42 216.17h0M109.48 216.52h0M109.54 216.86h0M109.60 217.21h0M109.66 217.55h0M109.72 217.90h0M109.78 218.24h0M109.84 218.59h0M109.89 218.93h0M109.95 219.28h0M110.01 219.62h0M110.07 219.97h0M110.13 220.31h0M110.18 220.66h0M110.24 221.00h0M110.30 221.35h0M110.36 221.69h0M110.41 222.04h0M110.47 222.38h0M110.53 222.73h0M110.59 223.07h0M110.65 223.42h0M110.70 223.77h0M110.76 224.11h0M110.82 224.46h0M110.88 224.80h0M110.93 225.15h0M110.99 225.49h0M111.05 225.84h0M111.11 226.18h0M111.17 226.53h0M111.22 226.87h0M111.28 227.22h0M111.34 227.56h0M111.39 227.91h0M111.45 228.25h0M111.51 228.60h0M111.57 228.94h0M111.62 229.29h0M111.68 229.63h0M111.74 229.98h0M111.79 230.33h0M111.85 230.67h0M111.91 231.02h0M111.96 231.36h0M112.02 231.71h0M112.08 232.05h0M112.14 232.40h0M112.19 232.74h0M112.25 233.09h0M112.31 233.43h0M112.36 233.78h0M112.42 234.12h0M112.48 234.47h0M112.53 234.81h0M112.59 235.16h0M112.65 235.51h0M112.70 235.85h0M112.76 236.20h0M112.82 236.54h0M112.88 236.89h0M112.93 237.23h0M112.99 237.58h0M113.05 237.92h0M113.10 238.27h0M113.16 238.61h0M113.22 238.96h0M113.27 239.30h0M113.33 239.65h0M113.39 240.00h0M113.44 240.34h0M113.50 240.69h0M113.56 241.03h0M113.61 241.38h0M113.67 241.72h0M113.73 242.07h0M113.78 242.41h0M113.84 242.76h0M113.90 243.10h0M113.95 243.45h0M114.01 243.79h0M114.07 244.14h0M114.12 244.49h0M114.18 244.83h0M114.24 245.18h0M114.29 245.52h0M114.35 245.87h0M114.41 246.21h0M114.46 246.56h0M114.52 246.90h0M114.58 247.25h0M114.64 247.59h0M114.69 247.94h0M114.75 248.28h0M114.81 248.63h0M114.86 248.97h0M114.92 249.32h0M114.98 249.67h0M115.03 250.01h0M115.09 250.36h0M115.15 250.70h0M115.20 251.05h0M115.26 251.39h0M115.32 251.74h0M115.38 252.08h0M115.43 252.43h0M115.49 252.77h0M115.55 253.12h0M115.60 253.46h0M115.66 253.81h0M115.72 254.15h0M115.78 254.50h0M115.84 254.84h0M115.89 255.19h0M115.95 255.53h0M116.01 255.88h0M116.07 256.23h0M116.12 256.57h0M116.18 256.92h0M116.24 257.26h0M116.30 257.61h0M116.36 257.95h0M116.41 258.30h0M116.47 258.64h0M116.53 258.99h0M116.59 259.33h0M116.65 259.68h0M116.70 260.02h0M116.76 260.37h0M116.82 260.71h0M116.88 261.06h0M116.94 261.40h0M117.00 261.75h0M117.06 262.09h0M117.12 262.44h0M117.18 262.78h0M117.24 263.13h0M117.30 263.47h0M117.36 263.82h0M117.42 264.16h0M117.48 264.51h0M117.54 264.85h0M117.60 265.20h0M117.66 265.54h0M117.72 265.89h0M117.78 266.23h0M117.84 266.57h0M117.90 266.92h0M117.96 267.26h0M118.02 267.61h0M118.08 267.95h0M118.14 268.30h0M118.20 268.64h0M118.27 268.99h0M118.33 269.33h0M118.39 269.68h0M118.45 270.02h0M118.52 270.36h0M118.58 270.71h0M118.64 271.05h0M118.70 271.40h0M118.77 271.74h0M118.83 272.09h0M118.90 272.43h0M118.96 272.77h0M119.02 273.12h0M119.09 273.46h0M119.15 273.81h0M119.21 274.15h0M119.28 274.49h0M119.34 274.84h0M119.41 275.18h0M119.47 275.53h0M119.54 275.87h0M119.60 276.21h0M119.66 276.56h0M119.73 276.90h0M119.79 277.25h0M119.86 277.59h0M119.92 277.94h0M119.98 278.28h0M120.05 278.62h0M120.11 278.97h0M120.17 279.31h0M120.24 279.66h0M120.30 280.00h0M120.37 280.34h0M120.44 280.69h0M120.51 281.03h0M120.58 281.37h0M120.65 281.72h0M120.72 282.06h0M120.79 282.40h0M120.86 282.74h0M120.93 283.09h0M121.01 283.43h0M121.10 283.77h0M121.18 284.11h0M121.26 284.45h0M121.34 284.79h0M121.42 285.13h0M121.50 285.47h0M121.58 285.81h0M121.66 286.15h0M121.75 286.49h0M121.83 286.83h0M121.91 287.17h0M121.99 287.51h0M122.07 287.85h0M122.15 288.19h0M122.22 288.54h0M122.29 288.88h0M122.36 289.22h0M122.44 289.56h0M122.51 289.91h0M122.58 290.25h0M122.65 290.59h0M122.72 290.93h0M122.78 291.28h0M122.84 291.62h0M122.90 291.97h0M122.95 292.32h0M123.01 292.66h0M123.06 293.01h0M123.12 293.35h0M123.18 293.70h0M123.23 294.04h0M123.29 294.39h0M123.34 294.73h0M123.39 295.08h0M123.44 295.43h0M123.48 295.77h0M123.52 296.12h0M123.57 296.47h0M123.61 296.82h0M123.65 297.16h0M123.69 297.51h0M123.74 297.86h0M123.78 298.21h0M123.82 298.55h0M123.86 298.90h0M123.91 299.25h0M123.95 299.60h0M123.99 299.94h0M124.03 300.29h0M124.06 300.64h0M124.09 300.99h0M124.12 301.34h0M124.16 301.69h0M124.19 302.03h0M124.22 302.38h0M124.25 302.73h0M124.29 303.08h0M124.32 303.43h0M124.35 303.78h0M124.38 304.13h0M124.42 304.47h0M124.45 304.82h0M124.48 305.17h0M124.51 305.52h0M124.55 305.87h0M124.58 306.22h0M124.61 306.56h0M124.64 306.91h0M124.67 307.26h0M124.70 307.61h0M124.73 307.96h0M124.76 308.31h0M124.78 308.66h0M124.81 309.01h0M124.84 309.36h0M124.87 309.70h0M124.89 310.05h0M124.92 310.40h0M124.95 310.75h0M124.98 311.10h0M125.00 311.45h0M125.03 311.80h0M125.06 312.15h0M125.09 312.50h0M125.11 312.84h0M125.14 313.19h0M125.17 313.54h0M125.20 313.89h0M125.22 314.24h0M125.25 314.59h0M125.28 314.94h0M125.31 315.29h0M125.33 315.64h0M125.36 315.98h0M125.39 316.33h0M125.41 316.68h0M125.44 317.03h0M125.46 317.38h0M125.49 317.73h0M125.51 318.08h0M125.54 318.43h0M125.56 318.78h0M125.59 319.13h0M125.61 319.48h0M125.64 319.82h0M125.66 320.17h0M125.69 320.52h0M125.71 320.87h0M125.74 321.22h0M125.76 321.57h0M125.79 321.92h0M125.81 322.27h0M125.84 322.62h0M125.86 322.97h0M125.89 323.32h0M125.91 323.66h0M125.94 324.01h0M125.97 324.36h0M125.99 324.71h0M126.02 325.06h0M126.04 325.41h0M126.07 325.76h0M126.09 326.11h0M126.11 326.46h0M126.14 326.81h0M126.16 327.16h0M126.19 327.51h0M126.21 327.85h0M126.24 328.20h0M126.26 328.55h0M126.28 328.90h0M126.31 329.25h0M126.33 329.60h0M126.36 329.95h0M126.38 330.30h0M126.41 330.65h0M126.43 331.00h0M126.45 331.35h0M126.48 331.69h0M126.50 332.04h0M126.53 332.39h0M126.55 332.74h0M126.58 333.09h0M126.60 333.44h0M126.63 333.79h0M126.65 334.14h0M126.67 334.49h0M126.70 334.84h0M126.72 335.19h0M126.75 335.54h0M126.77 335.88h0M126.80 336.23h0M126.82 336.58h0M126.84 336.93h0M126.87 337.28h0M126.89 337.63h0M126.92 337.98h0M126.94 338.33h0M126.97 338.68h0M126.99 339.03h0M127.02 339.38h0M127.04 339.73h0M127.07 340.07h0M127.09 340.42h0M127.11 340.77h0M127.14 341.12h0M127.16 341.47h0M127.19 341.82h0M127.21 342.17h0M127.24 342.52h0M127.26 342.87h0M127.29 343.22h0M127.31 343.57h0M127.34 343.91h0M127.36 344.26h0M127.39 344.61h0M127.42 344.96h0M127.44 345.31h0M127.47 345.66h0M127.50 346.01h0M127.52 346.36h0M127.55 346.71h0M127.58 347.06h0M127.60 347.40h0M127.63 347.75h0M127.66 348.10h0M127.68 348.45h0M127.71 348.80h0M127.74 349.15h0M127.76 349.50h0M127.79 349.85h0M127.82 350.20h0M127.85 350.55h0M127.88 350.89h0M127.91 351.24h0M127.94 351.59h0M127.97 351.94h0M128.00 352.29h0M128.03 352.64h0M128.06 352.99h0M128.09 353.33h0M128.13 353.68h0M128.16 354.03h0M128.20 354.38h0M128.23 354.73h0M128.27 355.08h0M128.31 355.42h0M128.34 355.77h0M128.38 356.12h0M128.43 356.47h0M128.48 356.81h0M128.54 357.16h0M128.60 357.50h0M128.68 357.84h0M128.75 358.19h0M128.81 358.53h0M128.86 358.88h0M128.90 359.22h0M128.95 359.57h0M128.99 359.92h0M129.03 360.27h0M129.06 360.61h0M129.10 360.96h0M129.14 361.31h0M129.17 361.66h0M129.21 362.01h0M129.25 362.36h0M129.28 362.70h0M129.32 363.05h0M129.35 363.40h0M129.39 363.75h0M129.42 364.10h0M129.46 364.44h0M129.49 364.79h0M129.53 365.14h0M129.56 365.49h0M129.60 365.84h0M129.63 366.19h0M129.67 366.53h0M129.70 366.88h0M129.74 367.23h0M129.77 367.58h0M129.80 367.93h0M129.84 368.28h0M129.87 368.62h0M129.91 368.97h0M129.94 369.32h0M129.98 369.67h0M130.01 370.02h0M130.04 370.37h0M130.08 370.71h0M130.11 371.06h0M130.15 371.41h0M130.18 371.76h0M130.21 372.11h0M130.25 372.46h0M130.28 372.80h0M130.32 373.15h0M130.35 373.50h0M130.39 373.85h0M130.40 374.00h0" fill="none" stroke="#FF7F50" stroke-width="5.00" stroke-linecap="round"/>
<path d="M44.66 56.40h0M51.20 57.90h0M55.30 59.10h0M58.09 60.37h0M60.25 61.54h0M62.01 62.68h0M63.51 63.76h0M130.50 375.50h0M130.70 377.20h0M130.80 379.00h0M131.00 381.00h0M131.10 383.00h0M131.30 385.30h0M131.50 388.20h0M131.70 392.30h0M131.90 397.50h0M132.20 403.60h0M132.80 410.80h0M134.50 420.00h0M145.80 433.70h0M149.30 456.60h0" fill="none" stroke="#FF7F50" stroke-width="4.40" stroke-linecap="round"/>
<path d="M50.40 441.10l3 5.4h-6z" fill="#00BFFF"/>
<circle cx="50.40" cy="456.60" r="2.65" fill="#FF7F50"/>
<text class="g" x="59.60" y="448.80">scientific news</text>
<text class="g" x="59.60" y="460.80">alternative news</text>
<rect x="40.70" y="40.50" width="112.75" height="432.00" fill="none" stroke="#000" stroke-width="1.35"/>
<g transform="translate(39.20 485.70)" fill="none" stroke="#111" stroke-width="0.85"><path d="M0.35 -4.85L1.85 -6.35V0"/><ellipse cx="5.9" cy="-3.3" rx="1.55" ry="2.9"/></g><text font-size="6.40" x="47.70" y="481.10">0</text>
<g transform="translate(64.00 485.70)" fill="none" stroke="#111" stroke-width="0.85"><path d="M0.35 -4.85L1.85 -6.35V0"/><ellipse cx="5.9" cy="-3.3" rx="1.55" ry="2.9"/></g><text font-size="6.40" x="72.50" y="481.10">1</text>
<g transform="translate(88.80 485.70)" fill="none" stroke="#111" stroke-width="0.85"><path d="M0.35 -4.85L1.85 -6.35V0"/><ellipse cx="5.9" cy="-3.3" rx="1.55" ry="2.9"/></g><text font-size="6.40" x="97.30" y="481.10">2</text>
<g transform="translate(113.60 485.70)" fill="none" stroke="#111" stroke-width="0.85"><path d="M0.35 -4.85L1.85 -6.35V0"/><ellipse cx="5.9" cy="-3.3" rx="1.55" ry="2.9"/></g><text font-size="6.40" x="122.10" y="481.10">3</text>
<g transform="translate(138.40 485.70)" fill="none" stroke="#111" stroke-width="0.85"><path d="M0.35 -4.85L1.85 -6.35V0"/><ellipse cx="5.9" cy="-3.3" rx="1.55" ry="2.9"/></g><text font-size="6.40" x="146.90" y="481.10">4</text>
<g transform="translate(24.14 60.90)" fill="none" stroke="#111" stroke-width="0.85"><path d="M0.35 -4.85L1.85 -6.35V0"/><ellipse cx="5.9" cy="-3.3" rx="1.55" ry="2.9"/></g><text font-size="6.40" x="32.64" y="56.90">0</text>
<g transform="translate(20.40 146.10)" fill="none" stroke="#111" stroke-width="0.85"><path d="M0.35 -4.85L1.85 -6.35V0"/><ellipse cx="5.9" cy="-3.3" rx="1.55" ry="2.9"/></g><text font-size="6.40" x="28.90" y="142.10">−1</text>
<g transform="translate(20.40 231.30)" fill="none" stroke="#111" stroke-width="0.85"><path d="M0.35 -4.85L1.85 -6.35V0"/><ellipse cx="5.9" cy="-3.3" rx="1.55" ry="2.9"/></g><text font-size="6.40" x="28.90" y="227.30">−2</text>
<g transform="translate(20.40 316.50)" fill="none" stroke="#111" stroke-width="0.85"><path d="M0.35 -4.85L1.85 -6.35V0"/><ellipse cx="5.9" cy="-3.3" rx="1.55" ry="2.9"/></g><text font-size="6.40" x="28.90" y="312.50">−3</text>
<g transform="translate(20.40 401.70)" fill="none" stroke="#111" stroke-width="0.85"><path d="M0.35 -4.85L1.85 -6.35V0"/><ellipse cx="5.9" cy="-3.3" rx="1.55" ry="2.9"/></g><text font-size="6.40" x="28.90" y="397.70">−4</text>
<text class="a" x="97.07" y="500.50" text-anchor="middle">likes</text>
<text class="a" transform="translate(18.5 257.30) rotate(-90)" text-anchor="middle">Empirical CCDF</text>
<path d="M216.03 472.50V470.10M217.54 472.50V470.10M218.90 477.90V467.30M227.83 472.50V470.10M233.05 472.50V470.10M236.75 472.50V470.10M239.62 472.50V470.10M241.97 472.50V470.10M243.96 472.50V470.10M245.68 472.50V470.10M247.19 472.50V470.10M248.55 477.90V467.30M257.48 472.50V470.10M262.70 472.50V470.10M266.40 472.50V470.10M269.27 472.50V470.10M271.62 472.50V470.10M273.61 472.50V470.10M275.33 472.50V470.10M276.84 472.50V470.10M278.20 477.90V467.30M287.13 472.50V470.10M292.35 472.50V470.10M296.05 472.50V470.10M298.92 472.50V470.10M301.27 472.50V470.10M303.26 472.50V470.10M304.98 472.50V470.10M306.49 472.50V470.10M307.85 477.90V467.30M316.78 472.50V470.10M322.00 472.50V470.10M325.70 472.50V470.10M214.90 465.27H217.40M214.90 453.97H217.40M214.90 445.21H217.40M214.90 438.06H217.40M214.90 432.00H217.40M214.90 426.76H217.40M214.90 422.14H217.40M214.90 418.00H220.30M214.90 390.79H217.40M214.90 374.87H217.40M214.90 363.57H217.40M214.90 354.81H217.40M214.90 347.66H217.40M214.90 341.60H217.40M214.90 336.36H217.40M214.90 331.74H217.40M214.90 327.60H220.30M214.90 300.39H217.40M214.90 284.47H217.40M214.90 273.17H217.40M214.90 264.41H217.40M214.90 257.26H217.40M214.90 251.20H217.40M214.90 245.96H217.40M214.90 241.34H217.40M214.90 237.20H220.30M214.90 209.99H217.40M214.90 194.07H217.40M214.90 182.77H217.40M214.90 174.01H217.40M214.90 166.86H217.40M214.90 160.80H217.40M214.90 155.56H217.40M214.90 150.94H217.40M214.90 146.80H220.30M214.90 119.59H217.40M214.90 103.67H217.40M214.90 92.37H217.40M214.90 83.61H217.40M214.90 76.46H217.40M214.90 70.40H217.40M214.90 65.16H217.40M214.90 60.54H217.40M214.90 56.40H220.30" fill="none" stroke="#000" stroke-width="0.9"/>
<path d="M262.00 161.26l2.50 4.50h-5.00zM262.09 161.60l2.50 4.50h-5.00zM262.18 161.94l2.50 4.50h-5.00zM262.85 162.27l2.50 4.50h-5.00zM262.94 162.61l2.50 4.50h-5.00zM263.03 162.95l2.50 4.50h-5.00zM263.12 163.29l2.50 4.50h-5.00zM263.21 163.63l2.50 4.50h-5.00zM263.30 163.96l2.50 4.50h-5.00zM263.39 164.30l2.50 4.50h-5.00zM263.48 164.64l2.50 4.50h-5.00zM263.57 164.98l2.50 4.50h-5.00zM263.66 165.32l2.50 4.50h-5.00zM263.75 165.66l2.50 4.50h-5.00zM263.84 165.99l2.50 4.50h-5.00zM263.93 166.33l2.50 4.50h-5.00zM264.02 166.67l2.50 4.50h-5.00zM264.11 167.01l2.50 4.50h-5.00zM264.20 167.35l2.50 4.50h-5.00zM264.29 167.68l2.50 4.50h-5.00zM264.37 168.02l2.50 4.50h-5.00zM264.46 168.36l2.50 4.50h-5.00zM264.55 168.70l2.50 4.50h-5.00zM264.64 169.04l2.50 4.50h-5.00zM264.73 169.38l2.50 4.50h-5.00zM264.82 169.71l2.50 4.50h-5.00zM264.91 170.05l2.50 4.50h-5.00zM265.00 170.39l2.50 4.50h-5.00zM265.09 170.73l2.50 4.50h-5.00zM265.18 171.07l2.50 4.50h-5.00zM265.27 171.41l2.50 4.50h-5.00zM265.36 171.74l2.50 4.50h-5.00zM265.45 172.08l2.50 4.50h-5.00zM265.54 172.42l2.50 4.50h-5.00zM265.63 172.76l2.50 4.50h-5.00zM265.72 173.10l2.50 4.50h-5.00zM265.80 173.44l2.50 4.50h-5.00zM265.89 173.77l2.50 4.50h-5.00zM265.98 174.11l2.50 4.50h-5.00zM266.07 174.45l2.50 4.50h-5.00zM266.16 174.79l2.50 4.50h-5.00zM266.25 175.13l2.50 4.50h-5.00zM266.34 175.47l2.50 4.50h-5.00zM266.43 175.81l2.50 4.50h-5.00zM266.52 176.14l2.50 4.50h-5.00zM266.61 176.48l2.50 4.50h-5.00zM266.70 176.82l2.50 4.50h-5.00zM266.78 177.16l2.50 4.50h-5.00zM266.87 177.50l2.50 4.50h-5.00zM266.96 177.84l2.50 4.50h-5.00zM267.05 178.17l2.50 4.50h-5.00zM267.14 178.51l2.50 4.50h-5.00zM267.23 178.85l2.50 4.50h-5.00zM267.32 179.19l2.50 4.50h-5.00zM267.41 179.53l2.50 4.50h-5.00zM267.50 179.87l2.50 4.50h-5.00zM267.59 180.21l2.50 4.50h-5.00zM267.68 180.54l2.50 4.50h-5.00zM267.76 180.88l2.50 4.50h-5.00zM267.85 181.22l2.50 4.50h-5.00zM267.94 181.56l2.50 4.50h-5.00zM268.03 181.90l2.50 4.50h-5.00zM268.12 182.24l2.50 4.50h-5.00zM268.21 182.57l2.50 4.50h-5.00zM268.30 182.91l2.50 4.50h-5.00zM268.39 183.25l2.50 4.50h-5.00zM268.48 183.59l2.50 4.50h-5.00zM268.57 183.93l2.50 4.50h-5.00zM268.65 184.27l2.50 4.50h-5.00zM268.74 184.61l2.50 4.50h-5.00zM268.83 184.94l2.50 4.50h-5.00zM268.92 185.28l2.50 4.50h-5.00zM269.01 185.62l2.50 4.50h-5.00zM269.10 185.96l2.50 4.50h-5.00zM269.19 186.30l2.50 4.50h-5.00zM269.28 186.64l2.50 4.50h-5.00zM269.37 186.97l2.50 4.50h-5.00zM269.46 187.31l2.50 4.50h-5.00zM269.55 187.65l2.50 4.50h-5.00zM269.63 187.99l2.50 4.50h-5.00zM269.72 188.33l2.50 4.50h-5.00zM269.25 188.67l2.50 4.50h-5.00zM269.34 189.01l2.50 4.50h-5.00zM269.40 189.25l2.50 4.50h-5.00zM270.30 198.25l2.50 4.50h-5.00zM270.36 198.60l2.50 4.50h-5.00zM270.41 198.94l2.50 4.50h-5.00zM270.82 199.29l2.50 4.50h-5.00zM270.88 199.63l2.50 4.50h-5.00zM270.93 199.98l2.50 4.50h-5.00zM270.99 200.32l2.50 4.50h-5.00zM271.04 200.67l2.50 4.50h-5.00zM271.10 201.01l2.50 4.50h-5.00zM271.16 201.36l2.50 4.50h-5.00zM271.21 201.70l2.50 4.50h-5.00zM271.27 202.05l2.50 4.50h-5.00zM271.33 202.40l2.50 4.50h-5.00zM271.38 202.74l2.50 4.50h-5.00zM271.44 203.09l2.50 4.50h-5.00zM271.50 203.43l2.50 4.50h-5.00zM271.55 203.78l2.50 4.50h-5.00zM271.61 204.12l2.50 4.50h-5.00zM271.66 204.47l2.50 4.50h-5.00zM271.72 204.81l2.50 4.50h-5.00zM271.78 205.16l2.50 4.50h-5.00zM271.83 205.50l2.50 4.50h-5.00zM271.89 205.85l2.50 4.50h-5.00zM271.95 206.20l2.50 4.50h-5.00zM272.00 206.54l2.50 4.50h-5.00zM272.06 206.89l2.50 4.50h-5.00zM272.11 207.23l2.50 4.50h-5.00zM272.17 207.58l2.50 4.50h-5.00zM272.23 207.92l2.50 4.50h-5.00zM272.28 208.27l2.50 4.50h-5.00zM272.34 208.61l2.50 4.50h-5.00zM272.40 208.96l2.50 4.50h-5.00zM272.45 209.30l2.50 4.50h-5.00zM272.51 209.65l2.50 4.50h-5.00zM272.57 209.99l2.50 4.50h-5.00zM272.62 210.34l2.50 4.50h-5.00zM272.68 210.69l2.50 4.50h-5.00zM272.73 211.03l2.50 4.50h-5.00zM272.79 211.38l2.50 4.50h-5.00zM272.85 211.72l2.50 4.50h-5.00zM272.90 212.07l2.50 4.50h-5.00zM272.96 212.41l2.50 4.50h-5.00zM273.02 212.76l2.50 4.50h-5.00zM273.07 213.10l2.50 4.50h-5.00zM273.13 213.45l2.50 4.50h-5.00zM273.19 213.79l2.50 4.50h-5.00zM273.24 214.14l2.50 4.50h-5.00zM273.30 214.49l2.50 4.50h-5.00zM273.35 214.83l2.50 4.50h-5.00zM273.41 215.18l2.50 4.50h-5.00zM273.47 215.52l2.50 4.50h-5.00zM273.52 215.87l2.50 4.50h-5.00zM273.23 216.21l2.50 4.50h-5.00zM273.29 216.56l2.50 4.50h-5.00zM273.30 216.65l2.50 4.50h-5.00zM274.60 232.75l2.50 4.50h-5.00zM274.65 233.10l2.50 4.50h-5.00zM274.71 233.44l2.50 4.50h-5.00zM275.10 233.79l2.50 4.50h-5.00zM275.15 234.13l2.50 4.50h-5.00zM275.20 234.48l2.50 4.50h-5.00zM275.26 234.83l2.50 4.50h-5.00zM275.31 235.17l2.50 4.50h-5.00zM275.36 235.52l2.50 4.50h-5.00zM275.42 235.86l2.50 4.50h-5.00zM275.47 236.21l2.50 4.50h-5.00zM275.53 236.55l2.50 4.50h-5.00zM275.58 236.90l2.50 4.50h-5.00zM275.63 237.25l2.50 4.50h-5.00zM275.69 237.59l2.50 4.50h-5.00zM275.74 237.94l2.50 4.50h-5.00zM275.80 238.28l2.50 4.50h-5.00zM275.85 238.63l2.50 4.50h-5.00zM275.90 238.98l2.50 4.50h-5.00zM275.96 239.32l2.50 4.50h-5.00zM276.01 239.67l2.50 4.50h-5.00zM276.06 240.01l2.50 4.50h-5.00zM276.12 240.36l2.50 4.50h-5.00zM276.17 240.70l2.50 4.50h-5.00zM276.23 241.05l2.50 4.50h-5.00zM276.28 241.40l2.50 4.50h-5.00zM276.33 241.74l2.50 4.50h-5.00zM276.39 242.09l2.50 4.50h-5.00zM276.44 242.43l2.50 4.50h-5.00zM276.49 242.78l2.50 4.50h-5.00zM276.55 243.13l2.50 4.50h-5.00zM276.60 243.47l2.50 4.50h-5.00zM276.66 243.82l2.50 4.50h-5.00zM276.71 244.16l2.50 4.50h-5.00zM276.76 244.51l2.50 4.50h-5.00zM276.82 244.85l2.50 4.50h-5.00zM276.87 245.20l2.50 4.50h-5.00zM276.92 245.55l2.50 4.50h-5.00zM276.98 245.89l2.50 4.50h-5.00zM277.03 246.24l2.50 4.50h-5.00zM277.09 246.58l2.50 4.50h-5.00zM277.14 246.93l2.50 4.50h-5.00zM277.19 247.28l2.50 4.50h-5.00zM277.25 247.62l2.50 4.50h-5.00zM277.30 247.97l2.50 4.50h-5.00zM277.36 248.31l2.50 4.50h-5.00zM277.41 248.66l2.50 4.50h-5.00zM277.46 249.00l2.50 4.50h-5.00zM277.52 249.35l2.50 4.50h-5.00zM277.57 249.70l2.50 4.50h-5.00zM277.62 250.04l2.50 4.50h-5.00zM277.68 250.39l2.50 4.50h-5.00zM277.73 250.73l2.50 4.50h-5.00zM277.79 251.08l2.50 4.50h-5.00zM277.84 251.43l2.50 4.50h-5.00zM277.89 251.77l2.50 4.50h-5.00zM277.95 252.12l2.50 4.50h-5.00zM278.00 252.46l2.50 4.50h-5.00zM278.05 252.81l2.50 4.50h-5.00zM278.11 253.15l2.50 4.50h-5.00zM278.16 253.50l2.50 4.50h-5.00zM278.22 253.85l2.50 4.50h-5.00zM278.27 254.19l2.50 4.50h-5.00zM278.32 254.54l2.50 4.50h-5.00zM278.04 254.88l2.50 4.50h-5.00zM278.10 255.23l2.50 4.50h-5.00zM278.10 255.25l2.50 4.50h-5.00zM279.00 258.75l2.50 4.50h-5.00zM279.05 259.10l2.50 4.50h-5.00zM279.11 259.44l2.50 4.50h-5.00zM279.50 259.79l2.50 4.50h-5.00zM279.56 260.13l2.50 4.50h-5.00zM279.61 260.48l2.50 4.50h-5.00zM279.67 260.82l2.50 4.50h-5.00zM279.72 261.17l2.50 4.50h-5.00zM279.78 261.52l2.50 4.50h-5.00zM279.83 261.86l2.50 4.50h-5.00zM279.88 262.21l2.50 4.50h-5.00zM279.94 262.55l2.50 4.50h-5.00zM279.99 262.90l2.50 4.50h-5.00zM280.05 263.24l2.50 4.50h-5.00zM280.10 263.59l2.50 4.50h-5.00zM280.16 263.94l2.50 4.50h-5.00zM280.21 264.28l2.50 4.50h-5.00zM280.27 264.63l2.50 4.50h-5.00zM280.32 264.97l2.50 4.50h-5.00zM280.37 265.32l2.50 4.50h-5.00zM280.43 265.66l2.50 4.50h-5.00zM280.48 266.01l2.50 4.50h-5.00zM280.54 266.36l2.50 4.50h-5.00zM280.59 266.70l2.50 4.50h-5.00zM280.65 267.05l2.50 4.50h-5.00zM280.70 267.39l2.50 4.50h-5.00zM280.76 267.74l2.50 4.50h-5.00zM280.81 268.08l2.50 4.50h-5.00zM280.86 268.43l2.50 4.50h-5.00zM280.92 268.78l2.50 4.50h-5.00zM280.97 269.12l2.50 4.50h-5.00zM281.03 269.47l2.50 4.50h-5.00zM281.08 269.81l2.50 4.50h-5.00zM281.14 270.16l2.50 4.50h-5.00zM281.19 270.50l2.50 4.50h-5.00zM281.25 270.85l2.50 4.50h-5.00zM281.30 271.20l2.50 4.50h-5.00zM281.36 271.54l2.50 4.50h-5.00zM281.41 271.89l2.50 4.50h-5.00zM281.47 272.23l2.50 4.50h-5.00zM281.52 272.58l2.50 4.50h-5.00zM281.58 272.92l2.50 4.50h-5.00zM281.63 273.27l2.50 4.50h-5.00zM281.68 273.62l2.50 4.50h-5.00zM281.74 273.96l2.50 4.50h-5.00zM281.79 274.31l2.50 4.50h-5.00zM281.85 274.65l2.50 4.50h-5.00zM281.90 275.00l2.50 4.50h-5.00zM281.96 275.34l2.50 4.50h-5.00zM282.01 275.69l2.50 4.50h-5.00zM282.07 276.04l2.50 4.50h-5.00zM282.12 276.38l2.50 4.50h-5.00zM282.18 276.73l2.50 4.50h-5.00zM282.23 277.07l2.50 4.50h-5.00zM282.29 277.42l2.50 4.50h-5.00zM282.34 277.76l2.50 4.50h-5.00zM282.40 278.11l2.50 4.50h-5.00zM282.45 278.46l2.50 4.50h-5.00zM282.51 278.80l2.50 4.50h-5.00zM282.56 279.15l2.50 4.50h-5.00zM282.62 279.49l2.50 4.50h-5.00zM282.68 279.84l2.50 4.50h-5.00zM282.73 280.18l2.50 4.50h-5.00zM282.79 280.53l2.50 4.50h-5.00zM282.84 280.88l2.50 4.50h-5.00zM282.90 281.22l2.50 4.50h-5.00zM282.95 281.57l2.50 4.50h-5.00zM283.01 281.91l2.50 4.50h-5.00zM283.06 282.26l2.50 4.50h-5.00zM283.12 282.60l2.50 4.50h-5.00zM283.18 282.95l2.50 4.50h-5.00zM283.23 283.29l2.50 4.50h-5.00zM283.29 283.64l2.50 4.50h-5.00zM283.35 283.99l2.50 4.50h-5.00zM283.40 284.33l2.50 4.50h-5.00zM283.46 284.68l2.50 4.50h-5.00zM283.51 285.02l2.50 4.50h-5.00zM283.57 285.37l2.50 4.50h-5.00zM283.63 285.71l2.50 4.50h-5.00zM283.69 286.06l2.50 4.50h-5.00zM283.74 286.40l2.50 4.50h-5.00zM283.80 286.75l2.50 4.50h-5.00zM283.86 287.09l2.50 4.50h-5.00zM283.92 287.44l2.50 4.50h-5.00zM283.97 287.78l2.50 4.50h-5.00zM284.03 288.13l2.50 4.50h-5.00zM284.09 288.48l2.50 4.50h-5.00zM284.15 288.82l2.50 4.50h-5.00zM284.20 289.17l2.50 4.50h-5.00zM284.26 289.51l2.50 4.50h-5.00zM284.32 289.86l2.50 4.50h-5.00zM284.38 290.20l2.50 4.50h-5.00zM284.44 290.55l2.50 4.50h-5.00zM284.50 290.89l2.50 4.50h-5.00zM284.56 291.24l2.50 4.50h-5.00zM284.62 291.58l2.50 4.50h-5.00zM284.68 291.93l2.50 4.50h-5.00zM284.75 292.27l2.50 4.50h-5.00zM284.81 292.62l2.50 4.50h-5.00zM284.87 292.96l2.50 4.50h-5.00zM284.94 293.31l2.50 4.50h-5.00zM285.00 293.65l2.50 4.50h-5.00zM285.07 294.00l2.50 4.50h-5.00zM285.14 294.34l2.50 4.50h-5.00zM285.20 294.68l2.50 4.50h-5.00zM285.27 295.03l2.50 4.50h-5.00zM285.34 295.37l2.50 4.50h-5.00zM285.41 295.72l2.50 4.50h-5.00zM285.48 296.06l2.50 4.50h-5.00zM285.55 296.40l2.50 4.50h-5.00zM285.62 296.75l2.50 4.50h-5.00zM285.70 297.09l2.50 4.50h-5.00zM285.77 297.43l2.50 4.50h-5.00zM285.85 297.78l2.50 4.50h-5.00zM285.93 298.12l2.50 4.50h-5.00zM286.01 298.46l2.50 4.50h-5.00zM286.09 298.80l2.50 4.50h-5.00zM286.17 299.14l2.50 4.50h-5.00zM286.25 299.49l2.50 4.50h-5.00zM286.33 299.83l2.50 4.50h-5.00zM286.42 300.17l2.50 4.50h-5.00zM286.51 300.51l2.50 4.50h-5.00zM286.59 300.85l2.50 4.50h-5.00zM286.68 301.19l2.50 4.50h-5.00zM286.76 301.53l2.50 4.50h-5.00zM286.85 301.87l2.50 4.50h-5.00zM286.94 302.21l2.50 4.50h-5.00zM287.02 302.55l2.50 4.50h-5.00zM287.10 302.89l2.50 4.50h-5.00zM287.19 303.23l2.50 4.50h-5.00zM287.27 303.57l2.50 4.50h-5.00zM287.35 303.91l2.50 4.50h-5.00zM287.43 304.25l2.50 4.50h-5.00zM287.51 304.59l2.50 4.50h-5.00zM287.59 304.93l2.50 4.50h-5.00zM287.66 305.27l2.50 4.50h-5.00zM287.73 305.61l2.50 4.50h-5.00zM287.80 305.96l2.50 4.50h-5.00zM287.87 306.30l2.50 4.50h-5.00zM287.94 306.64l2.50 4.50h-5.00zM287.99 306.98l2.50 4.50h-5.00zM288.05 307.32l2.50 4.50h-5.00zM288.11 307.67l2.50 4.50h-5.00zM288.16 308.01l2.50 4.50h-5.00zM288.21 308.35l2.50 4.50h-5.00zM288.25 308.70l2.50 4.50h-5.00zM288.31 309.04l2.50 4.50h-5.00zM288.35 309.39l2.50 4.50h-5.00zM288.39 309.73l2.50 4.50h-5.00zM288.43 310.08l2.50 4.50h-5.00zM288.47 310.43l2.50 4.50h-5.00zM288.51 310.77l2.50 4.50h-5.00zM288.54 311.12l2.50 4.50h-5.00zM288.58 311.47l2.50 4.50h-5.00zM288.62 311.81l2.50 4.50h-5.00zM288.65 312.16l2.50 4.50h-5.00zM288.69 312.51l2.50 4.50h-5.00zM288.73 312.86l2.50 4.50h-5.00zM288.77 313.20l2.50 4.50h-5.00zM288.81 313.55l2.50 4.50h-5.00zM288.85 313.90l2.50 4.50h-5.00zM288.89 314.25l2.50 4.50h-5.00zM288.93 314.59l2.50 4.50h-5.00zM288.97 314.94l2.50 4.50h-5.00zM288.99 315.29l2.50 4.50h-5.00zM289.02 315.64l2.50 4.50h-5.00zM289.05 315.98l2.50 4.50h-5.00zM289.07 316.33l2.50 4.50h-5.00zM289.09 316.68l2.50 4.50h-5.00zM289.11 317.03l2.50 4.50h-5.00zM289.14 317.38l2.50 4.50h-5.00zM289.17 317.73l2.50 4.50h-5.00zM289.20 318.08l2.50 4.50h-5.00zM289.23 318.43l2.50 4.50h-5.00zM289.27 318.77l2.50 4.50h-5.00zM289.31 319.12l2.50 4.50h-5.00zM289.36 319.47l2.50 4.50h-5.00zM289.41 319.82l2.50 4.50h-5.00zM289.46 320.17l2.50 4.50h-5.00zM289.52 320.51l2.50 4.50h-5.00zM289.59 320.86l2.50 4.50h-5.00zM289.65 321.21l2.50 4.50h-5.00zM289.72 321.55l2.50 4.50h-5.00zM289.81 321.90l2.50 4.50h-5.00zM289.90 322.24l2.50 4.50h-5.00zM289.99 322.59l2.50 4.50h-5.00zM290.07 322.93l2.50 4.50h-5.00zM290.17 323.27l2.50 4.50h-5.00zM290.28 323.62l2.50 4.50h-5.00zM290.38 323.96l2.50 4.50h-5.00zM290.47 324.30l2.50 4.50h-5.00zM290.58 324.64l2.50 4.50h-5.00zM290.68 324.98l2.50 4.50h-5.00zM290.79 325.31l2.50 4.50h-5.00zM290.89 325.65l2.50 4.50h-5.00zM290.99 325.99l2.50 4.50h-5.00zM291.09 326.33l2.50 4.50h-5.00zM291.20 326.66l2.50 4.50h-5.00zM291.31 327.00l2.50 4.50h-5.00zM291.41 327.34l2.50 4.50h-5.00zM291.52 327.67l2.50 4.50h-5.00zM291.62 328.01l2.50 4.50h-5.00zM291.73 328.34l2.50 4.50h-5.00zM291.83 328.68l2.50 4.50h-5.00zM291.94 329.01l2.50 4.50h-5.00zM292.04 329.35l2.50 4.50h-5.00zM292.15 329.68l2.50 4.50h-5.00zM292.25 330.02l2.50 4.50h-5.00zM292.35 330.35l2.50 4.50h-5.00zM292.46 330.69l2.50 4.50h-5.00zM292.56 331.02l2.50 4.50h-5.00zM292.66 331.36l2.50 4.50h-5.00zM292.78 331.69l2.50 4.50h-5.00zM292.89 332.02l2.50 4.50h-5.00zM293.00 332.36l2.50 4.50h-5.00zM293.13 332.69l2.50 4.50h-5.00zM293.25 333.02l2.50 4.50h-5.00zM293.38 333.35l2.50 4.50h-5.00zM293.51 333.68l2.50 4.50h-5.00zM293.63 334.02l2.50 4.50h-5.00zM293.76 334.34l2.50 4.50h-5.00zM293.88 334.67l2.50 4.50h-5.00zM294.01 335.00l2.50 4.50h-5.00zM293.35 335.33l2.50 4.50h-5.00zM293.47 335.66l2.50 4.50h-5.00zM293.50 335.75l2.50 4.50h-5.00zM218.80 53.40l2.70 4.60h-5.40zM232.95 74.69l2.70 4.60h-5.40zM236.65 82.30l2.70 4.60h-5.40zM239.52 89.16l2.70 4.60h-5.40zM241.87 95.41l2.70 4.60h-5.40zM243.86 100.59l2.70 4.60h-5.40zM245.58 105.79l2.70 4.60h-5.40zM247.09 110.41l2.70 4.60h-5.40zM248.45 114.60l2.70 4.60h-5.40zM249.68 118.69l2.70 4.60h-5.40zM250.80 122.59l2.70 4.60h-5.40zM251.83 125.60l2.70 4.60h-5.40zM252.78 128.71l2.70 4.60h-5.40zM253.67 131.40l2.70 4.60h-5.40zM254.50 134.00l2.70 4.60h-5.40zM255.28 136.31l2.70 4.60h-5.40zM256.02 139.01l2.70 4.60h-5.40zM256.72 141.57l2.70 4.60h-5.40zM257.38 144.01l2.70 4.60h-5.40zM258.00 146.34l2.70 4.60h-5.40zM258.60 148.56l2.70 4.60h-5.40zM259.18 150.69l2.70 4.60h-5.40zM259.72 152.72l2.70 4.60h-5.40zM260.25 154.68l2.70 4.60h-5.40zM260.75 156.56l2.70 4.60h-5.40zM261.24 158.37l2.70 4.60h-5.40zM261.71 160.12l2.70 4.60h-5.40zM273.90 221.60l2.70 4.60h-5.40zM274.30 227.70l2.70 4.60h-5.40zM293.81 336.90l2.70 4.60h-5.40zM294.13 338.15l2.70 4.60h-5.40zM294.45 339.40l2.70 4.60h-5.40zM294.77 340.65l2.70 4.60h-5.40zM295.09 341.90l2.70 4.60h-5.40zM295.41 343.15l2.70 4.60h-5.40zM295.73 344.40l2.70 4.60h-5.40zM296.05 345.65l2.70 4.60h-5.40zM296.38 346.90l2.70 4.60h-5.40zM296.70 348.15l2.70 4.60h-5.40zM297.02 349.40l2.70 4.60h-5.40zM297.34 350.65l2.70 4.60h-5.40zM299.00 356.60l2.70 4.60h-5.40zM299.30 360.10l2.70 4.60h-5.40zM299.40 363.70l2.70 4.60h-5.40zM299.40 367.70l2.70 4.60h-5.40zM299.70 372.20l2.70 4.60h-5.40zM301.10 377.50l2.70 4.60h-5.40zM304.50 383.40l2.70 4.60h-5.40zM305.20 390.50l2.70 4.60h-5.40zM308.40 399.60l2.70 4.60h-5.40zM313.10 410.70l2.70 4.60h-5.40zM321.90 426.70l2.70 4.60h-5.40z" fill="#00BFFF"/>
<path d="M249.68 99.98h0M250.80 103.42h0M251.83 106.89h0M252.78 110.17h0M253.67 113.21h0M254.50 116.01h0M255.28 118.59h0M256.02 120.97h0M256.72 123.12h0M257.00 123.99h0M257.11 124.32h0M257.22 124.66h0M257.33 124.99h0M257.45 125.32h0M257.56 125.65h0M257.67 125.98h0M257.78 126.31h0M257.89 126.65h0M258.00 126.98h0M258.12 127.31h0M258.23 127.64h0M258.34 127.97h0M258.45 128.30h0M258.57 128.63h0M258.68 128.97h0M258.79 129.30h0M258.91 129.63h0M259.02 129.96h0M259.13 130.29h0M259.25 130.62h0M259.36 130.95h0M259.47 131.28h0M259.58 131.62h0M259.70 131.95h0M259.81 132.28h0M259.92 132.61h0M260.03 132.94h0M260.15 133.27h0M260.26 133.60h0M260.37 133.94h0M260.48 134.27h0M260.59 134.60h0M260.70 134.93h0M260.81 135.26h0M260.92 135.60h0M261.03 135.93h0M261.14 136.26h0M261.25 136.59h0M261.36 136.93h0M261.47 137.26h0M261.58 137.59h0M261.68 137.93h0M261.79 138.26h0M261.90 138.59h0M262.00 138.93h0M262.11 139.26h0M262.21 139.59h0M262.32 139.93h0M262.42 140.26h0M262.53 140.59h0M262.63 140.93h0M262.74 141.26h0M262.84 141.60h0M262.94 141.93h0M263.05 142.27h0M263.15 142.60h0M263.26 142.93h0M263.36 143.27h0M263.46 143.60h0M263.57 143.94h0M263.67 144.27h0M263.78 144.61h0M263.88 144.94h0M263.98 145.27h0M264.09 145.61h0M264.19 145.94h0M264.30 146.28h0M264.40 146.61h0M264.50 146.95h0M264.60 147.28h0M264.70 147.62h0M264.80 147.95h0M264.90 148.29h0M265.00 148.62h0M265.10 148.96h0M265.20 149.29h0M265.30 149.63h0M265.39 149.97h0M265.49 150.30h0M265.58 150.64h0M265.68 150.98h0M265.77 151.31h0M265.87 151.65h0M265.96 151.99h0M266.05 152.33h0M266.14 152.66h0M266.23 153.00h0M266.32 153.34h0M266.41 153.68h0M266.50 154.02h0M266.59 154.36h0M266.68 154.70h0M266.77 155.03h0M266.86 155.37h0M266.94 155.71h0M267.03 156.05h0M267.11 156.39h0M267.19 156.73h0M267.28 157.07h0M267.36 157.41h0M267.45 157.75h0M267.53 158.09h0M267.61 158.43h0M267.70 158.77h0M267.78 159.11h0M267.86 159.45h0M267.95 159.79h0M268.03 160.13h0M268.11 160.47h0M268.19 160.81h0M268.27 161.15h0M268.34 161.49h0M268.42 161.84h0M268.50 162.18h0M268.58 162.52h0M268.66 162.86h0M268.74 163.20h0M268.82 163.54h0M268.89 163.88h0M268.97 164.22h0M269.05 164.56h0M269.13 164.90h0M269.21 165.25h0M269.29 165.59h0M269.36 165.93h0M269.44 166.27h0M269.51 166.61h0M269.59 166.95h0M269.66 167.30h0M269.74 167.64h0M269.81 167.98h0M269.89 168.32h0M269.96 168.66h0M270.04 169.01h0M270.11 169.35h0M270.19 169.69h0M270.26 170.03h0M270.34 170.37h0M270.41 170.72h0M270.49 171.06h0M270.56 171.40h0M270.64 171.74h0M270.71 172.08h0M270.78 172.42h0M270.86 172.77h0M270.93 173.11h0M271.00 173.45h0M271.08 173.79h0M271.15 174.14h0M271.22 174.48h0M271.30 174.82h0M271.37 175.16h0M271.44 175.50h0M271.52 175.85h0M271.59 176.19h0M271.66 176.53h0M271.74 176.87h0M271.81 177.22h0M271.88 177.56h0M271.96 177.90h0M272.03 178.24h0M272.11 178.58h0M272.18 178.93h0M272.25 179.27h0M272.32 179.61h0M272.40 179.95h0M272.47 180.30h0M272.54 180.64h0M272.62 180.98h0M272.69 181.32h0M272.76 181.67h0M272.84 182.01h0M272.91 182.35h0M272.98 182.69h0M273.05 183.03h0M273.13 183.38h0M273.20 183.72h0M273.27 184.06h0M273.35 184.40h0M273.42 184.75h0M273.49 185.09h0M273.57 185.43h0M273.64 185.77h0M273.71 186.12h0M273.79 186.46h0M273.86 186.80h0M273.93 187.14h0M274.01 187.48h0M274.08 187.83h0M274.15 188.17h0M274.23 188.51h0M274.30 188.85h0M274.37 189.19h0M274.45 189.54h0M274.52 189.88h0M274.60 190.22h0M274.67 190.56h0M274.74 190.91h0M274.82 191.25h0M274.89 191.59h0M274.96 191.93h0M275.04 192.27h0M275.11 192.62h0M275.19 192.96h0M275.26 193.30h0M275.33 193.64h0M275.41 193.98h0M275.49 194.33h0M275.56 194.67h0M275.64 195.01h0M275.71 195.35h0M275.79 195.69h0M275.86 196.03h0M275.94 196.38h0M276.02 196.72h0M276.09 197.06h0M276.17 197.40h0M276.24 197.74h0M276.32 198.08h0M276.40 198.43h0M276.47 198.77h0M276.55 199.11h0M276.62 199.45h0M276.70 199.79h0M276.78 200.13h0M276.86 200.47h0M276.94 200.81h0M277.02 201.16h0M277.10 201.50h0M277.18 201.84h0M277.26 202.18h0M277.34 202.52h0M277.42 202.86h0M277.50 203.20h0M277.58 203.54h0M277.66 203.88h0M277.74 204.22h0M277.82 204.56h0M277.91 204.90h0M277.99 205.24h0M278.07 205.58h0M278.16 205.92h0M278.24 206.26h0M278.33 206.60h0M278.41 206.94h0M278.50 207.28h0M278.58 207.62h0M278.67 207.96h0M278.75 208.30h0M278.84 208.64h0M278.92 208.98h0M279.01 209.32h0M279.09 209.66h0M279.18 210.00h0M279.26 210.34h0M279.35 210.67h0M279.44 211.01h0M279.52 211.35h0M279.61 211.69h0M279.70 212.03h0M279.78 212.37h0M279.87 212.71h0M279.96 213.05h0M280.04 213.39h0M280.13 213.73h0M280.22 214.07h0M280.30 214.40h0M280.39 214.74h0M280.48 215.08h0M280.56 215.42h0M280.65 215.76h0M280.73 216.10h0M280.82 216.44h0M280.90 216.78h0M280.99 217.12h0M281.07 217.46h0M281.16 217.80h0M281.24 218.14h0M281.33 218.48h0M281.41 218.82h0M281.49 219.16h0M281.58 219.50h0M281.66 219.84h0M281.74 220.18h0M281.82 220.52h0M281.90 220.86h0M281.98 221.20h0M282.06 221.54h0M282.14 221.88h0M282.22 222.22h0M282.30 222.56h0M282.38 222.90h0M282.46 223.25h0M282.54 223.59h0M282.62 223.93h0M282.69 224.27h0M282.77 224.61h0M282.85 224.95h0M282.92 225.29h0M282.99 225.64h0M283.06 225.98h0M283.13 226.32h0M283.20 226.66h0M283.27 227.01h0M283.35 227.35h0M283.42 227.69h0M283.49 228.04h0M283.56 228.38h0M283.63 228.72h0M283.70 229.06h0M283.78 229.41h0M283.85 229.75h0M283.92 230.09h0M283.98 230.44h0M284.04 230.78h0M284.11 231.12h0M284.17 231.47h0M284.23 231.81h0M284.30 232.16h0M284.36 232.50h0M284.42 232.85h0M284.48 233.19h0M284.55 233.53h0M284.61 233.88h0M284.67 234.22h0M284.74 234.57h0M284.80 234.91h0M284.86 235.26h0M284.93 235.60h0M284.99 235.94h0M285.05 236.29h0M285.11 236.63h0M285.16 236.98h0M285.22 237.32h0M285.28 237.67h0M285.34 238.01h0M285.39 238.36h0M285.45 238.71h0M285.51 239.05h0M285.57 239.40h0M285.62 239.74h0M285.68 240.09h0M285.74 240.43h0M285.79 240.78h0M285.85 241.12h0M285.91 241.47h0M285.97 241.81h0M286.02 242.16h0M286.08 242.50h0M286.14 242.85h0M286.19 243.19h0M286.25 243.54h0M286.30 243.89h0M286.35 244.23h0M286.41 244.58h0M286.46 244.92h0M286.52 245.27h0M286.57 245.62h0M286.63 245.96h0M286.68 246.31h0M286.73 246.65h0M286.79 247.00h0M286.84 247.34h0M286.90 247.69h0M286.95 248.04h0M287.00 248.38h0M287.06 248.73h0M287.11 249.07h0M287.17 249.42h0M287.22 249.76h0M287.27 250.11h0M287.33 250.46h0M287.38 250.80h0M287.43 251.15h0M287.48 251.49h0M287.54 251.84h0M287.59 252.19h0M287.64 252.53h0M287.70 252.88h0M287.75 253.22h0M287.80 253.57h0M287.85 253.92h0M287.91 254.26h0M287.96 254.61h0M288.01 254.95h0M288.07 255.30h0M288.12 255.65h0M288.17 255.99h0M288.22 256.34h0M288.28 256.68h0M288.33 257.03h0M288.39 257.38h0M288.44 257.72h0M288.49 258.07h0M288.55 258.41h0M288.60 258.76h0M288.65 259.11h0M288.71 259.45h0M288.76 259.80h0M288.81 260.14h0M288.87 260.49h0M288.92 260.84h0M288.97 261.18h0M289.03 261.53h0M289.08 261.87h0M289.13 262.22h0M289.19 262.56h0M289.24 262.91h0M289.30 263.26h0M289.35 263.60h0M289.41 263.95h0M289.47 264.29h0M289.52 264.64h0M289.58 264.98h0M289.63 265.33h0M289.69 265.67h0M289.75 266.02h0M289.80 266.36h0M289.86 266.71h0M289.91 267.06h0M289.97 267.40h0M290.03 267.75h0M290.08 268.09h0M290.14 268.44h0M290.20 268.78h0M290.26 269.13h0M290.32 269.47h0M290.38 269.82h0M290.44 270.16h0M290.50 270.51h0M290.56 270.85h0M290.62 271.20h0M290.68 271.54h0M290.74 271.89h0M290.80 272.23h0M290.86 272.58h0M290.92 272.92h0M290.98 273.27h0M291.04 273.61h0M291.10 273.95h0M291.17 274.30h0M291.23 274.64h0M291.29 274.99h0M291.35 275.33h0M291.41 275.68h0M291.48 276.02h0M291.54 276.37h0M291.60 276.71h0M291.66 277.05h0M291.72 277.40h0M291.79 277.74h0M291.85 278.09h0M291.91 278.43h0M291.98 278.78h0M292.04 279.12h0M292.10 279.46h0M292.17 279.81h0M292.23 280.15h0M292.30 280.50h0M292.36 280.84h0M292.42 281.18h0M292.49 281.53h0M292.55 281.87h0M292.62 282.22h0M292.68 282.56h0M292.74 282.90h0M292.81 283.25h0M292.87 283.59h0M292.94 283.94h0M293.00 284.28h0M293.07 284.62h0M293.13 284.97h0M293.20 285.31h0M293.26 285.66h0M293.33 286.00h0M293.39 286.34h0M293.46 286.69h0M293.52 287.03h0M293.59 287.38h0M293.65 287.72h0M293.72 288.06h0M293.78 288.41h0M293.85 288.75h0M293.91 289.10h0M293.97 289.44h0M294.04 289.78h0M294.10 290.13h0M294.16 290.47h0M294.23 290.82h0M294.29 291.16h0M294.35 291.51h0M294.42 291.85h0M294.48 292.19h0M294.54 292.54h0M294.60 292.88h0M294.66 293.23h0M294.73 293.57h0M294.79 293.92h0M294.85 294.26h0M294.91 294.61h0M294.96 294.95h0M295.02 295.30h0M295.08 295.64h0M295.14 295.99h0M295.20 296.33h0M295.26 296.68h0M295.33 297.02h0M295.39 297.36h0M295.46 297.71h0M295.52 298.05h0M295.59 298.40h0M295.66 298.74h0M295.72 299.08h0M295.79 299.43h0M295.86 299.77h0M295.92 300.11h0M295.99 300.46h0M296.06 300.80h0M296.13 301.14h0M296.19 301.49h0M296.26 301.83h0M296.33 302.17h0M296.40 302.52h0M296.47 302.86h0M296.53 303.20h0M296.60 303.55h0M296.67 303.89h0M296.74 304.23h0M296.81 304.58h0M296.88 304.92h0M296.95 305.26h0M297.01 305.61h0M297.08 305.95h0M297.15 306.29h0M297.22 306.64h0M297.29 306.98h0M297.36 307.32h0M297.43 307.66h0M297.50 308.01h0M297.57 308.35h0M297.64 308.69h0M297.71 309.04h0M297.77 309.38h0M297.84 309.72h0M297.91 310.07h0M297.98 310.41h0M298.05 310.75h0M298.12 311.10h0M298.19 311.44h0M298.26 311.78h0M298.33 312.12h0M298.40 312.47h0M298.47 312.81h0M298.54 313.15h0M298.61 313.50h0M298.67 313.84h0M298.74 314.18h0M298.81 314.53h0M298.88 314.87h0M298.95 315.21h0M299.02 315.56h0M299.09 315.90h0M299.16 316.24h0M299.23 316.58h0M299.30 316.93h0M299.37 317.27h0M299.44 317.61h0M299.51 317.96h0M299.57 318.30h0M299.64 318.64h0M299.71 318.99h0M299.78 319.33h0M299.85 319.67h0M299.92 320.02h0M299.99 320.36h0M300.06 320.70h0M300.13 321.05h0M300.20 321.39h0M300.27 321.73h0M300.33 322.07h0M300.40 322.42h0M300.47 322.76h0M300.54 323.10h0M300.61 323.45h0M300.68 323.79h0M300.75 324.13h0M300.82 324.48h0M300.89 324.82h0M300.96 325.16h0M301.03 325.51h0M301.09 325.85h0M301.16 326.19h0M301.23 326.54h0M301.30 326.88h0M301.37 327.22h0M301.44 327.56h0M301.51 327.91h0M301.58 328.25h0M301.65 328.59h0M301.72 328.94h0M301.79 329.28h0M301.86 329.62h0M301.93 329.97h0M302.00 330.31h0M302.07 330.65h0M302.14 330.99h0M302.21 331.34h0M302.28 331.68h0M302.34 332.02h0M302.41 332.37h0M302.48 332.71h0M302.55 333.05h0M302.62 333.40h0M302.69 333.74h0M302.76 334.08h0M302.83 334.42h0M302.90 334.77h0M302.97 335.11h0M303.04 335.45h0M303.11 335.80h0M303.18 336.14h0M303.25 336.48h0M303.31 336.83h0M303.38 337.17h0M303.45 337.51h0M303.52 337.86h0M303.59 338.20h0M303.66 338.54h0M303.73 338.89h0M303.80 339.23h0M303.86 339.57h0M303.93 339.92h0M304.00 340.26h0M304.07 340.60h0M304.14 340.95h0M304.20 341.29h0M304.27 341.63h0M304.34 341.98h0M304.41 342.32h0M304.48 342.66h0M304.54 343.01h0M304.61 343.35h0M304.67 343.69h0M304.74 344.04h0M304.81 344.38h0M304.87 344.72h0M304.94 345.07h0M305.01 345.41h0M305.07 345.76h0M305.14 346.10h0M305.20 346.44h0M305.26 346.79h0M305.33 347.13h0M305.39 347.48h0M305.45 347.82h0M305.51 348.17h0M305.58 348.51h0M305.64 348.85h0M305.70 349.20h0M305.76 349.54h0M305.82 349.89h0M305.88 350.23h0M305.93 350.58h0M305.99 350.92h0M306.05 351.27h0M306.11 351.61h0M306.17 351.96h0M306.22 352.30h0M306.28 352.65h0M306.34 353.00h0M306.39 353.34h0M306.45 353.69h0M306.51 354.03h0M306.56 354.38h0M306.62 354.72h0M306.67 355.07h0M306.73 355.41h0M306.78 355.76h0M306.84 356.11h0M306.90 356.45h0M306.95 356.80h0M307.01 357.14h0M307.07 357.49h0M307.12 357.83h0M307.18 358.18h0M307.24 358.52h0M307.30 358.87h0M307.36 359.21h0M307.42 359.56h0M307.48 359.90h0M307.55 360.25h0M307.61 360.59h0M307.68 360.93h0M307.74 361.28h0M307.80 361.62h0M307.87 361.96h0M307.94 362.31h0M308.00 362.65h0M308.07 363.00h0M308.14 363.34h0M308.21 363.68h0M308.27 364.03h0M308.34 364.37h0M308.41 364.71h0M308.48 365.05h0M308.55 365.40h0M308.62 365.74h0M308.69 366.08h0M308.76 366.43h0M308.83 366.77h0M308.90 367.11h0M308.97 367.45h0M309.05 367.80h0M309.12 368.14h0M309.19 368.48h0M309.26 368.83h0M309.33 369.17h0M309.40 369.51h0M309.47 369.85h0M309.50 370.00h0" fill="none" stroke="#FF7F50" stroke-width="5.00" stroke-linecap="round"/>
<path d="M218.80 56.40h0M227.73 63.40h0M232.95 69.50h0M236.65 74.40h0M239.52 79.24h0M241.87 83.60h0M243.86 87.74h0M245.58 91.39h0M247.09 94.61h0M248.45 97.70h0M309.80 371.80h0M310.10 373.80h0M310.40 376.00h0M310.70 378.50h0M310.90 381.20h0M311.10 384.00h0M311.30 387.00h0M311.50 390.10h0M312.80 395.50h0M313.10 401.80h0M314.60 409.50h0M321.90 419.00h0M321.90 433.00h0M323.50 456.60h0" fill="none" stroke="#FF7F50" stroke-width="4.40" stroke-linecap="round"/>
<path d="M224.70 441.10l3 5.4h-6z" fill="#00BFFF"/>
<circle cx="224.70" cy="456.60" r="2.65" fill="#FF7F50"/>
<text class="g" x="233.90" y="448.80">scientific news</text>
<text class="g" x="233.90" y="460.80">alternative news</text>
<rect x="214.90" y="40.50" width="113.60" height="432.00" fill="none" stroke="#000" stroke-width="1.35"/>
<g transform="translate(213.60 490.30)" fill="none" stroke="#111" stroke-width="0.85"><path d="M0.35 -4.85L1.85 -6.35V0"/><ellipse cx="5.9" cy="-3.3" rx="1.55" ry="2.9"/></g><text font-size="6.40" x="222.10" y="485.70">0</text>
<g transform="translate(243.25 490.30)" fill="none" stroke="#111" stroke-width="0.85"><path d="M0.35 -4.85L1.85 -6.35V0"/><ellipse cx="5.9" cy="-3.3" rx="1.55" ry="2.9"/></g><text font-size="6.40" x="251.75" y="485.70">1</text>
<g transform="translate(272.90 490.30)" fill="none" stroke="#111" stroke-width="0.85"><path d="M0.35 -4.85L1.85 -6.35V0"/><ellipse cx="5.9" cy="-3.3" rx="1.55" ry="2.9"/></g><text font-size="6.40" x="281.40" y="485.70">2</text>
<g transform="translate(302.55 490.30)" fill="none" stroke="#111" stroke-width="0.85"><path d="M0.35 -4.85L1.85 -6.35V0"/><ellipse cx="5.9" cy="-3.3" rx="1.55" ry="2.9"/></g><text font-size="6.40" x="311.05" y="485.70">3</text>
<g transform="translate(198.34 60.60)" fill="none" stroke="#111" stroke-width="0.85"><path d="M0.35 -4.85L1.85 -6.35V0"/><ellipse cx="5.9" cy="-3.3" rx="1.55" ry="2.9"/></g><text font-size="6.40" x="206.84" y="56.60">0</text>
<g transform="translate(194.60 151.00)" fill="none" stroke="#111" stroke-width="0.85"><path d="M0.35 -4.85L1.85 -6.35V0"/><ellipse cx="5.9" cy="-3.3" rx="1.55" ry="2.9"/></g><text font-size="6.40" x="203.10" y="147.00">−1</text>
<g transform="translate(194.60 241.40)" fill="none" stroke="#111" stroke-width="0.85"><path d="M0.35 -4.85L1.85 -6.35V0"/><ellipse cx="5.9" cy="-3.3" rx="1.55" ry="2.9"/></g><text font-size="6.40" x="203.10" y="237.40">−2</text>
<g transform="translate(194.60 331.80)" fill="none" stroke="#111" stroke-width="0.85"><path d="M0.35 -4.85L1.85 -6.35V0"/><ellipse cx="5.9" cy="-3.3" rx="1.55" ry="2.9"/></g><text font-size="6.40" x="203.10" y="327.80">−3</text>
<g transform="translate(194.60 422.20)" fill="none" stroke="#111" stroke-width="0.85"><path d="M0.35 -4.85L1.85 -6.35V0"/><ellipse cx="5.9" cy="-3.3" rx="1.55" ry="2.9"/></g><text font-size="6.40" x="203.10" y="418.20">−4</text>
<text class="a" x="271.70" y="501.00" text-anchor="middle">comments</text>
<path d="M390.19 472.50V470.10M391.32 472.50V470.10M392.31 472.50V470.10M393.20 472.50V467.30M399.04 472.50V470.10M402.46 472.50V470.10M404.88 472.50V470.10M406.76 472.50V470.10M408.30 472.50V470.10M409.59 472.50V470.10M410.72 472.50V470.10M411.71 472.50V470.10M412.60 472.50V467.30M418.44 472.50V470.10M421.86 472.50V470.10M424.28 472.50V470.10M426.16 472.50V470.10M427.70 472.50V470.10M428.99 472.50V470.10M430.12 472.50V470.10M431.11 472.50V470.10M432.00 472.50V467.30M437.84 472.50V470.10M441.26 472.50V470.10M443.68 472.50V470.10M445.56 472.50V470.10M447.10 472.50V470.10M448.39 472.50V470.10M449.52 472.50V470.10M450.51 472.50V470.10M451.40 472.50V467.30M457.24 472.50V470.10M460.66 472.50V470.10M463.08 472.50V470.10M464.96 472.50V470.10M466.50 472.50V470.10M467.79 472.50V470.10M468.92 472.50V470.10M469.91 472.50V470.10M470.80 472.50V467.30M476.64 472.50V470.10M480.06 472.50V470.10M482.48 472.50V470.10M484.36 472.50V470.10M485.90 472.50V470.10M487.19 472.50V470.10M488.32 472.50V470.10M489.31 472.50V470.10M490.20 472.50V467.30M496.04 472.50V470.10M499.46 472.50V470.10M501.88 472.50V470.10M389.40 462.77H391.90M389.40 453.82H391.90M389.40 446.50H391.90M389.40 440.31H391.90M389.40 434.95H391.90M389.40 430.23H391.90M389.40 426.00H394.80M389.40 398.18H391.90M389.40 381.91H391.90M389.40 370.37H391.90M389.40 361.42H391.90M389.40 354.10H391.90M389.40 347.91H391.90M389.40 342.55H391.90M389.40 337.83H391.90M389.40 333.60H394.80M389.40 305.78H391.90M389.40 289.51H391.90M389.40 277.97H391.90M389.40 269.02H391.90M389.40 261.70H391.90M389.40 255.51H391.90M389.40 250.15H391.90M389.40 245.43H391.90M389.40 241.20H394.80M389.40 213.38H391.90M389.40 197.11H391.90M389.40 185.57H391.90M389.40 176.62H391.90M389.40 169.30H391.90M389.40 163.11H391.90M389.40 157.75H391.90M389.40 153.03H391.90M389.40 148.80H394.80M389.40 120.98H391.90M389.40 104.71H391.90M389.40 93.17H391.90M389.40 84.22H391.90M389.40 76.90H391.90M389.40 70.71H391.90M389.40 65.35H391.90M389.40 60.63H391.90M389.40 56.40H394.80" fill="none" stroke="#000" stroke-width="0.9"/>
<path d="M414.10 65.75l2.50 4.50h-5.00zM414.18 66.09l2.50 4.50h-5.00zM414.26 66.43l2.50 4.50h-5.00zM414.84 66.77l2.50 4.50h-5.00zM414.92 67.11l2.50 4.50h-5.00zM415.00 67.45l2.50 4.50h-5.00zM415.08 67.80l2.50 4.50h-5.00zM415.17 68.14l2.50 4.50h-5.00zM415.25 68.48l2.50 4.50h-5.00zM415.34 68.82l2.50 4.50h-5.00zM415.43 69.16l2.50 4.50h-5.00zM415.52 69.50l2.50 4.50h-5.00zM415.61 69.84l2.50 4.50h-5.00zM415.70 70.18l2.50 4.50h-5.00zM415.79 70.52l2.50 4.50h-5.00zM415.88 70.85l2.50 4.50h-5.00zM415.97 71.19l2.50 4.50h-5.00zM416.06 71.53l2.50 4.50h-5.00zM416.15 71.87l2.50 4.50h-5.00zM416.25 72.21l2.50 4.50h-5.00zM416.34 72.55l2.50 4.50h-5.00zM416.43 72.89l2.50 4.50h-5.00zM416.52 73.22l2.50 4.50h-5.00zM416.61 73.56l2.50 4.50h-5.00zM416.71 73.90l2.50 4.50h-5.00zM416.80 74.24l2.50 4.50h-5.00zM416.90 74.58l2.50 4.50h-5.00zM416.99 74.91l2.50 4.50h-5.00zM417.09 75.25l2.50 4.50h-5.00zM417.19 75.59l2.50 4.50h-5.00zM417.29 75.93l2.50 4.50h-5.00zM417.39 76.26l2.50 4.50h-5.00zM417.49 76.60l2.50 4.50h-5.00zM417.59 76.94l2.50 4.50h-5.00zM417.70 77.27l2.50 4.50h-5.00zM417.81 77.61l2.50 4.50h-5.00zM417.92 77.94l2.50 4.50h-5.00zM418.03 78.28l2.50 4.50h-5.00zM418.15 78.61l2.50 4.50h-5.00zM418.26 78.95l2.50 4.50h-5.00zM418.38 79.28l2.50 4.50h-5.00zM418.49 79.61l2.50 4.50h-5.00zM418.61 79.94l2.50 4.50h-5.00zM418.73 80.28l2.50 4.50h-5.00zM418.84 80.61l2.50 4.50h-5.00zM418.96 80.94l2.50 4.50h-5.00zM419.07 81.27l2.50 4.50h-5.00zM419.19 81.60l2.50 4.50h-5.00zM419.30 81.93l2.50 4.50h-5.00zM419.41 82.27l2.50 4.50h-5.00zM419.52 82.60l2.50 4.50h-5.00zM419.63 82.93l2.50 4.50h-5.00zM419.73 83.26l2.50 4.50h-5.00zM419.84 83.59l2.50 4.50h-5.00zM419.94 83.93l2.50 4.50h-5.00zM420.04 84.26l2.50 4.50h-5.00zM420.13 84.59l2.50 4.50h-5.00zM420.23 84.93l2.50 4.50h-5.00zM420.32 85.26l2.50 4.50h-5.00zM420.40 85.60l2.50 4.50h-5.00zM420.48 85.93l2.50 4.50h-5.00zM420.57 86.27l2.50 4.50h-5.00zM420.64 86.61l2.50 4.50h-5.00zM420.71 86.94l2.50 4.50h-5.00zM420.78 87.28l2.50 4.50h-5.00zM420.84 87.62l2.50 4.50h-5.00zM420.90 87.96l2.50 4.50h-5.00zM420.97 88.30l2.50 4.50h-5.00zM421.04 88.65l2.50 4.50h-5.00zM421.11 88.99l2.50 4.50h-5.00zM421.18 89.33l2.50 4.50h-5.00zM421.26 89.67l2.50 4.50h-5.00zM421.34 90.01l2.50 4.50h-5.00zM421.43 90.35l2.50 4.50h-5.00zM421.52 90.69l2.50 4.50h-5.00zM421.61 91.03l2.50 4.50h-5.00zM421.70 91.38l2.50 4.50h-5.00zM421.79 91.71l2.50 4.50h-5.00zM421.89 92.05l2.50 4.50h-5.00zM421.99 92.39l2.50 4.50h-5.00zM422.08 92.73l2.50 4.50h-5.00zM422.17 93.07l2.50 4.50h-5.00zM422.27 93.41l2.50 4.50h-5.00zM422.37 93.75l2.50 4.50h-5.00zM422.46 94.08l2.50 4.50h-5.00zM422.56 94.42l2.50 4.50h-5.00zM422.65 94.76l2.50 4.50h-5.00zM422.74 95.10l2.50 4.50h-5.00zM422.84 95.44l2.50 4.50h-5.00zM422.93 95.77l2.50 4.50h-5.00zM423.03 96.11l2.50 4.50h-5.00zM423.12 96.45l2.50 4.50h-5.00zM423.22 96.78l2.50 4.50h-5.00zM423.31 97.12l2.50 4.50h-5.00zM423.41 97.46l2.50 4.50h-5.00zM423.50 97.80l2.50 4.50h-5.00zM423.60 98.13l2.50 4.50h-5.00zM423.69 98.47l2.50 4.50h-5.00zM423.79 98.81l2.50 4.50h-5.00zM423.88 99.14l2.50 4.50h-5.00zM423.97 99.48l2.50 4.50h-5.00zM424.07 99.82l2.50 4.50h-5.00zM424.16 100.16l2.50 4.50h-5.00zM424.26 100.49l2.50 4.50h-5.00zM424.35 100.83l2.50 4.50h-5.00zM424.44 101.17l2.50 4.50h-5.00zM424.54 101.50l2.50 4.50h-5.00zM424.63 101.84l2.50 4.50h-5.00zM424.72 102.18l2.50 4.50h-5.00zM424.82 102.52l2.50 4.50h-5.00zM424.91 102.85l2.50 4.50h-5.00zM425.00 103.19l2.50 4.50h-5.00zM425.09 103.53l2.50 4.50h-5.00zM425.18 103.87l2.50 4.50h-5.00zM425.27 104.20l2.50 4.50h-5.00zM425.37 104.54l2.50 4.50h-5.00zM425.46 104.88l2.50 4.50h-5.00zM425.55 105.22l2.50 4.50h-5.00zM425.64 105.55l2.50 4.50h-5.00zM425.73 105.89l2.50 4.50h-5.00zM425.82 106.23l2.50 4.50h-5.00zM425.90 106.57l2.50 4.50h-5.00zM425.99 106.91l2.50 4.50h-5.00zM426.08 107.24l2.50 4.50h-5.00zM426.16 107.58l2.50 4.50h-5.00zM426.25 107.92l2.50 4.50h-5.00zM426.33 108.26l2.50 4.50h-5.00zM426.42 108.60l2.50 4.50h-5.00zM426.50 108.94l2.50 4.50h-5.00zM426.58 109.28l2.50 4.50h-5.00zM426.66 109.62l2.50 4.50h-5.00zM426.74 109.95l2.50 4.50h-5.00zM426.82 110.29l2.50 4.50h-5.00zM426.90 110.63l2.50 4.50h-5.00zM426.98 110.97l2.50 4.50h-5.00zM427.06 111.31l2.50 4.50h-5.00zM427.14 111.65l2.50 4.50h-5.00zM427.21 111.99l2.50 4.50h-5.00zM427.29 112.34l2.50 4.50h-5.00zM427.36 112.68l2.50 4.50h-5.00zM427.43 113.02l2.50 4.50h-5.00zM427.51 113.36l2.50 4.50h-5.00zM427.58 113.70l2.50 4.50h-5.00zM427.64 114.04l2.50 4.50h-5.00zM427.71 114.38l2.50 4.50h-5.00zM427.78 114.73l2.50 4.50h-5.00zM427.85 115.07l2.50 4.50h-5.00zM427.92 115.41l2.50 4.50h-5.00zM427.99 115.75l2.50 4.50h-5.00zM428.06 116.10l2.50 4.50h-5.00zM428.13 116.44l2.50 4.50h-5.00zM428.19 116.78l2.50 4.50h-5.00zM428.26 117.12l2.50 4.50h-5.00zM428.33 117.47l2.50 4.50h-5.00zM428.39 117.81l2.50 4.50h-5.00zM428.45 118.15l2.50 4.50h-5.00zM428.51 118.50l2.50 4.50h-5.00zM428.57 118.84l2.50 4.50h-5.00zM428.63 119.18l2.50 4.50h-5.00zM428.69 119.53l2.50 4.50h-5.00zM428.74 119.87l2.50 4.50h-5.00zM428.79 120.22l2.50 4.50h-5.00zM428.85 120.56l2.50 4.50h-5.00zM428.91 120.91l2.50 4.50h-5.00zM428.96 121.25l2.50 4.50h-5.00zM429.02 121.60l2.50 4.50h-5.00zM429.08 121.94l2.50 4.50h-5.00zM429.14 122.29l2.50 4.50h-5.00zM429.20 122.63l2.50 4.50h-5.00zM429.26 122.98l2.50 4.50h-5.00zM429.32 123.32l2.50 4.50h-5.00zM429.38 123.67l2.50 4.50h-5.00zM429.45 124.01l2.50 4.50h-5.00zM429.51 124.36l2.50 4.50h-5.00zM429.58 124.70l2.50 4.50h-5.00zM429.65 125.05l2.50 4.50h-5.00zM429.71 125.39l2.50 4.50h-5.00zM429.78 125.73l2.50 4.50h-5.00zM429.85 126.08l2.50 4.50h-5.00zM429.92 126.42l2.50 4.50h-5.00zM429.98 126.77l2.50 4.50h-5.00zM430.05 127.11l2.50 4.50h-5.00zM430.12 127.45l2.50 4.50h-5.00zM430.18 127.80l2.50 4.50h-5.00zM430.25 128.14l2.50 4.50h-5.00zM430.32 128.48l2.50 4.50h-5.00zM430.39 128.83l2.50 4.50h-5.00zM430.46 129.17l2.50 4.50h-5.00zM430.53 129.51l2.50 4.50h-5.00zM430.59 129.86l2.50 4.50h-5.00zM430.66 130.20l2.50 4.50h-5.00zM430.73 130.55l2.50 4.50h-5.00zM430.80 130.89l2.50 4.50h-5.00zM430.87 131.23l2.50 4.50h-5.00zM430.93 131.58l2.50 4.50h-5.00zM431.00 131.92l2.50 4.50h-5.00zM431.07 132.26l2.50 4.50h-5.00zM431.14 132.61l2.50 4.50h-5.00zM431.21 132.95l2.50 4.50h-5.00zM431.27 133.29l2.50 4.50h-5.00zM431.34 133.64l2.50 4.50h-5.00zM431.41 133.98l2.50 4.50h-5.00zM431.48 134.32l2.50 4.50h-5.00zM431.55 134.67l2.50 4.50h-5.00zM431.61 135.01l2.50 4.50h-5.00zM431.68 135.35l2.50 4.50h-5.00zM431.75 135.70l2.50 4.50h-5.00zM431.82 136.04l2.50 4.50h-5.00zM431.89 136.38l2.50 4.50h-5.00zM431.96 136.73l2.50 4.50h-5.00zM432.03 137.07l2.50 4.50h-5.00zM432.09 137.41l2.50 4.50h-5.00zM432.16 137.76l2.50 4.50h-5.00zM432.23 138.10l2.50 4.50h-5.00zM432.30 138.44l2.50 4.50h-5.00zM432.37 138.79l2.50 4.50h-5.00zM432.44 139.13l2.50 4.50h-5.00zM432.51 139.47l2.50 4.50h-5.00zM432.58 139.81l2.50 4.50h-5.00zM432.65 140.16l2.50 4.50h-5.00zM432.72 140.50l2.50 4.50h-5.00zM432.78 140.84l2.50 4.50h-5.00zM432.85 141.19l2.50 4.50h-5.00zM432.92 141.53l2.50 4.50h-5.00zM432.99 141.87l2.50 4.50h-5.00zM433.06 142.22l2.50 4.50h-5.00zM433.13 142.56l2.50 4.50h-5.00zM433.20 142.90l2.50 4.50h-5.00zM433.27 143.25l2.50 4.50h-5.00zM433.34 143.59l2.50 4.50h-5.00zM433.41 143.93l2.50 4.50h-5.00zM433.48 144.28l2.50 4.50h-5.00zM433.55 144.62l2.50 4.50h-5.00zM433.62 144.96l2.50 4.50h-5.00zM433.69 145.30l2.50 4.50h-5.00zM433.76 145.65l2.50 4.50h-5.00zM433.83 145.99l2.50 4.50h-5.00zM433.90 146.33l2.50 4.50h-5.00zM433.97 146.68l2.50 4.50h-5.00zM434.04 147.02l2.50 4.50h-5.00zM434.12 147.36l2.50 4.50h-5.00zM434.19 147.70l2.50 4.50h-5.00zM434.26 148.05l2.50 4.50h-5.00zM434.33 148.39l2.50 4.50h-5.00zM434.41 148.73l2.50 4.50h-5.00zM434.48 149.08l2.50 4.50h-5.00zM434.55 149.42l2.50 4.50h-5.00zM434.62 149.76l2.50 4.50h-5.00zM434.70 150.10l2.50 4.50h-5.00zM434.77 150.45l2.50 4.50h-5.00zM434.85 150.79l2.50 4.50h-5.00zM434.93 151.13l2.50 4.50h-5.00zM435.01 151.47l2.50 4.50h-5.00zM435.09 151.81l2.50 4.50h-5.00zM435.16 152.16l2.50 4.50h-5.00zM435.24 152.50l2.50 4.50h-5.00zM435.32 152.84l2.50 4.50h-5.00zM435.40 153.18l2.50 4.50h-5.00zM435.48 153.52l2.50 4.50h-5.00zM435.57 153.86l2.50 4.50h-5.00zM435.66 154.20l2.50 4.50h-5.00zM435.74 154.54l2.50 4.50h-5.00zM435.83 154.88l2.50 4.50h-5.00zM435.91 155.23l2.50 4.50h-5.00zM436.00 155.57l2.50 4.50h-5.00zM436.09 155.91l2.50 4.50h-5.00zM436.17 156.25l2.50 4.50h-5.00zM436.26 156.58l2.50 4.50h-5.00zM436.35 156.92l2.50 4.50h-5.00zM436.44 157.26l2.50 4.50h-5.00zM436.52 157.60l2.50 4.50h-5.00zM436.61 157.94l2.50 4.50h-5.00zM436.69 158.28l2.50 4.50h-5.00zM436.77 158.62l2.50 4.50h-5.00zM436.86 158.96l2.50 4.50h-5.00zM436.94 159.30l2.50 4.50h-5.00zM437.01 159.64l2.50 4.50h-5.00zM437.09 159.98l2.50 4.50h-5.00zM437.16 160.32l2.50 4.50h-5.00zM437.24 160.66l2.50 4.50h-5.00zM437.31 161.00l2.50 4.50h-5.00zM437.38 161.34l2.50 4.50h-5.00zM437.44 161.69l2.50 4.50h-5.00zM437.51 162.03l2.50 4.50h-5.00zM437.58 162.37l2.50 4.50h-5.00zM437.64 162.71l2.50 4.50h-5.00zM437.71 163.05l2.50 4.50h-5.00zM437.77 163.40l2.50 4.50h-5.00zM437.83 163.74l2.50 4.50h-5.00zM437.90 164.08l2.50 4.50h-5.00zM437.96 164.43l2.50 4.50h-5.00zM438.02 164.77l2.50 4.50h-5.00zM438.09 165.11l2.50 4.50h-5.00zM438.15 165.46l2.50 4.50h-5.00zM438.21 165.80l2.50 4.50h-5.00zM438.27 166.15l2.50 4.50h-5.00zM438.33 166.49l2.50 4.50h-5.00zM438.40 166.83l2.50 4.50h-5.00zM438.46 167.18l2.50 4.50h-5.00zM438.52 167.52l2.50 4.50h-5.00zM438.58 167.87l2.50 4.50h-5.00zM438.64 168.21l2.50 4.50h-5.00zM438.70 168.56l2.50 4.50h-5.00zM438.76 168.90l2.50 4.50h-5.00zM438.82 169.24l2.50 4.50h-5.00zM438.88 169.59l2.50 4.50h-5.00zM438.94 169.93l2.50 4.50h-5.00zM439.00 170.28l2.50 4.50h-5.00zM439.06 170.62l2.50 4.50h-5.00zM439.12 170.97l2.50 4.50h-5.00zM439.18 171.31l2.50 4.50h-5.00zM439.24 171.66l2.50 4.50h-5.00zM439.30 172.00l2.50 4.50h-5.00zM439.36 172.35l2.50 4.50h-5.00zM439.42 172.69l2.50 4.50h-5.00zM439.49 173.04l2.50 4.50h-5.00zM439.55 173.38l2.50 4.50h-5.00zM439.61 173.72l2.50 4.50h-5.00zM439.67 174.07l2.50 4.50h-5.00zM439.73 174.41l2.50 4.50h-5.00zM439.41 174.76l2.50 4.50h-5.00zM439.47 175.10l2.50 4.50h-5.00zM439.50 175.25l2.50 4.50h-5.00zM439.90 181.75l2.50 4.50h-5.00zM439.94 182.10l2.50 4.50h-5.00zM439.98 182.44l2.50 4.50h-5.00zM440.29 182.79l2.50 4.50h-5.00zM440.33 183.14l2.50 4.50h-5.00zM440.38 183.49l2.50 4.50h-5.00zM440.42 183.83l2.50 4.50h-5.00zM440.46 184.18l2.50 4.50h-5.00zM440.50 184.53l2.50 4.50h-5.00zM440.54 184.88l2.50 4.50h-5.00zM440.59 185.22l2.50 4.50h-5.00zM440.63 185.57l2.50 4.50h-5.00zM440.67 185.92l2.50 4.50h-5.00zM440.71 186.27l2.50 4.50h-5.00zM440.76 186.61l2.50 4.50h-5.00zM440.80 186.96l2.50 4.50h-5.00zM440.84 187.31l2.50 4.50h-5.00zM440.88 187.66l2.50 4.50h-5.00zM440.93 188.00l2.50 4.50h-5.00zM440.97 188.35l2.50 4.50h-5.00zM441.01 188.70l2.50 4.50h-5.00zM441.05 189.05l2.50 4.50h-5.00zM441.10 189.39l2.50 4.50h-5.00zM441.14 189.74l2.50 4.50h-5.00zM440.92 190.09l2.50 4.50h-5.00zM440.96 190.44l2.50 4.50h-5.00zM441.00 190.75l2.50 4.50h-5.00zM441.30 194.55l2.50 4.50h-5.00zM441.35 194.90l2.50 4.50h-5.00zM441.41 195.24l2.50 4.50h-5.00zM441.79 195.59l2.50 4.50h-5.00zM441.85 195.93l2.50 4.50h-5.00zM441.90 196.28l2.50 4.50h-5.00zM441.95 196.63l2.50 4.50h-5.00zM442.01 196.97l2.50 4.50h-5.00zM442.06 197.32l2.50 4.50h-5.00zM442.11 197.66l2.50 4.50h-5.00zM442.17 198.01l2.50 4.50h-5.00zM442.22 198.35l2.50 4.50h-5.00zM442.27 198.70l2.50 4.50h-5.00zM442.33 199.05l2.50 4.50h-5.00zM442.38 199.39l2.50 4.50h-5.00zM442.43 199.74l2.50 4.50h-5.00zM442.49 200.08l2.50 4.50h-5.00zM442.54 200.43l2.50 4.50h-5.00zM442.60 200.78l2.50 4.50h-5.00zM442.65 201.12l2.50 4.50h-5.00zM442.70 201.47l2.50 4.50h-5.00zM442.76 201.81l2.50 4.50h-5.00zM442.81 202.16l2.50 4.50h-5.00zM442.86 202.51l2.50 4.50h-5.00zM442.92 202.85l2.50 4.50h-5.00zM442.97 203.20l2.50 4.50h-5.00zM443.02 203.54l2.50 4.50h-5.00zM442.74 203.89l2.50 4.50h-5.00zM442.80 204.23l2.50 4.50h-5.00zM442.80 204.25l2.50 4.50h-5.00zM443.00 208.05l2.50 4.50h-5.00zM443.03 208.40l2.50 4.50h-5.00zM443.06 208.75l2.50 4.50h-5.00zM443.26 209.10l2.50 4.50h-5.00zM443.29 209.45l2.50 4.50h-5.00zM443.31 209.79l2.50 4.50h-5.00zM443.34 210.14l2.50 4.50h-5.00zM443.37 210.49l2.50 4.50h-5.00zM443.40 210.84l2.50 4.50h-5.00zM443.43 211.19l2.50 4.50h-5.00zM443.45 211.54l2.50 4.50h-5.00zM443.48 211.89l2.50 4.50h-5.00zM443.51 212.24l2.50 4.50h-5.00zM443.54 212.59l2.50 4.50h-5.00zM443.57 212.93l2.50 4.50h-5.00zM443.59 213.28l2.50 4.50h-5.00zM443.62 213.63l2.50 4.50h-5.00zM443.65 213.98l2.50 4.50h-5.00zM443.68 214.33l2.50 4.50h-5.00zM443.71 214.68l2.50 4.50h-5.00zM443.73 215.03l2.50 4.50h-5.00zM443.76 215.38l2.50 4.50h-5.00zM443.79 215.73l2.50 4.50h-5.00zM443.65 216.07l2.50 4.50h-5.00zM443.67 216.42l2.50 4.50h-5.00zM443.70 216.75l2.50 4.50h-5.00zM444.00 220.55l2.50 4.50h-5.00zM444.05 220.90l2.50 4.50h-5.00zM444.09 221.24l2.50 4.50h-5.00zM444.42 221.59l2.50 4.50h-5.00zM444.47 221.94l2.50 4.50h-5.00zM444.52 222.28l2.50 4.50h-5.00zM444.56 222.63l2.50 4.50h-5.00zM444.61 222.98l2.50 4.50h-5.00zM444.65 223.33l2.50 4.50h-5.00zM444.70 223.67l2.50 4.50h-5.00zM444.75 224.02l2.50 4.50h-5.00zM444.79 224.37l2.50 4.50h-5.00zM444.84 224.71l2.50 4.50h-5.00zM444.88 225.06l2.50 4.50h-5.00zM444.93 225.41l2.50 4.50h-5.00zM444.97 225.75l2.50 4.50h-5.00zM445.02 226.10l2.50 4.50h-5.00zM445.06 226.45l2.50 4.50h-5.00zM445.11 226.80l2.50 4.50h-5.00zM445.15 227.14l2.50 4.50h-5.00zM445.20 227.49l2.50 4.50h-5.00zM445.24 227.84l2.50 4.50h-5.00zM445.29 228.18l2.50 4.50h-5.00zM445.33 228.53l2.50 4.50h-5.00zM445.38 228.88l2.50 4.50h-5.00zM445.42 229.22l2.50 4.50h-5.00zM445.47 229.57l2.50 4.50h-5.00zM445.51 229.92l2.50 4.50h-5.00zM445.56 230.27l2.50 4.50h-5.00zM445.60 230.61l2.50 4.50h-5.00zM445.65 230.96l2.50 4.50h-5.00zM445.69 231.31l2.50 4.50h-5.00zM445.74 231.65l2.50 4.50h-5.00zM445.78 232.00l2.50 4.50h-5.00zM445.83 232.35l2.50 4.50h-5.00zM445.87 232.70l2.50 4.50h-5.00zM445.92 233.04l2.50 4.50h-5.00zM445.96 233.39l2.50 4.50h-5.00zM446.01 233.74l2.50 4.50h-5.00zM446.05 234.08l2.50 4.50h-5.00zM446.10 234.43l2.50 4.50h-5.00zM446.14 234.78l2.50 4.50h-5.00zM446.19 235.13l2.50 4.50h-5.00zM446.23 235.47l2.50 4.50h-5.00zM446.28 235.82l2.50 4.50h-5.00zM446.32 236.17l2.50 4.50h-5.00zM446.37 236.51l2.50 4.50h-5.00zM446.41 236.86l2.50 4.50h-5.00zM446.46 237.21l2.50 4.50h-5.00zM446.50 237.56l2.50 4.50h-5.00zM446.55 237.90l2.50 4.50h-5.00zM446.59 238.25l2.50 4.50h-5.00zM446.64 238.60l2.50 4.50h-5.00zM446.68 238.94l2.50 4.50h-5.00zM446.73 239.29l2.50 4.50h-5.00zM446.77 239.64l2.50 4.50h-5.00zM446.82 239.98l2.50 4.50h-5.00zM446.86 240.33l2.50 4.50h-5.00zM446.91 240.68l2.50 4.50h-5.00zM446.95 241.03l2.50 4.50h-5.00zM447.00 241.37l2.50 4.50h-5.00zM447.04 241.72l2.50 4.50h-5.00zM447.09 242.07l2.50 4.50h-5.00zM447.13 242.41l2.50 4.50h-5.00zM447.18 242.76l2.50 4.50h-5.00zM447.22 243.11l2.50 4.50h-5.00zM447.27 243.46l2.50 4.50h-5.00zM447.31 243.80l2.50 4.50h-5.00zM447.36 244.15l2.50 4.50h-5.00zM447.40 244.50l2.50 4.50h-5.00zM447.45 244.84l2.50 4.50h-5.00zM447.49 245.19l2.50 4.50h-5.00zM447.54 245.54l2.50 4.50h-5.00zM447.58 245.89l2.50 4.50h-5.00zM447.63 246.23l2.50 4.50h-5.00zM447.67 246.58l2.50 4.50h-5.00zM447.72 246.93l2.50 4.50h-5.00zM447.76 247.27l2.50 4.50h-5.00zM447.81 247.62l2.50 4.50h-5.00zM447.85 247.97l2.50 4.50h-5.00zM447.90 248.32l2.50 4.50h-5.00zM447.94 248.66l2.50 4.50h-5.00zM447.98 249.01l2.50 4.50h-5.00zM448.03 249.36l2.50 4.50h-5.00zM448.07 249.70l2.50 4.50h-5.00zM448.12 250.05l2.50 4.50h-5.00zM448.16 250.40l2.50 4.50h-5.00zM448.21 250.75l2.50 4.50h-5.00zM448.25 251.09l2.50 4.50h-5.00zM448.30 251.44l2.50 4.50h-5.00zM448.34 251.79l2.50 4.50h-5.00zM448.38 252.13l2.50 4.50h-5.00zM448.43 252.48l2.50 4.50h-5.00zM448.47 252.83l2.50 4.50h-5.00zM448.51 253.18l2.50 4.50h-5.00zM448.56 253.52l2.50 4.50h-5.00zM448.60 253.87l2.50 4.50h-5.00zM448.64 254.22l2.50 4.50h-5.00zM448.69 254.56l2.50 4.50h-5.00zM448.73 254.91l2.50 4.50h-5.00zM448.77 255.26l2.50 4.50h-5.00zM448.82 255.61l2.50 4.50h-5.00zM448.86 255.95l2.50 4.50h-5.00zM448.90 256.30l2.50 4.50h-5.00zM448.95 256.65l2.50 4.50h-5.00zM448.99 257.00l2.50 4.50h-5.00zM449.04 257.34l2.50 4.50h-5.00zM449.08 257.69l2.50 4.50h-5.00zM449.12 258.04l2.50 4.50h-5.00zM449.16 258.38l2.50 4.50h-5.00zM449.20 258.73l2.50 4.50h-5.00zM449.24 259.08l2.50 4.50h-5.00zM449.28 259.43l2.50 4.50h-5.00zM449.33 259.77l2.50 4.50h-5.00zM449.37 260.12l2.50 4.50h-5.00zM449.41 260.47l2.50 4.50h-5.00zM449.45 260.82l2.50 4.50h-5.00zM449.50 261.16l2.50 4.50h-5.00zM449.54 261.51l2.50 4.50h-5.00zM449.58 261.86l2.50 4.50h-5.00zM449.62 262.21l2.50 4.50h-5.00zM449.66 262.55l2.50 4.50h-5.00zM449.70 262.90l2.50 4.50h-5.00zM449.74 263.25l2.50 4.50h-5.00zM449.78 263.60l2.50 4.50h-5.00zM449.82 263.94l2.50 4.50h-5.00zM449.85 264.29l2.50 4.50h-5.00zM449.89 264.64l2.50 4.50h-5.00zM449.93 264.99l2.50 4.50h-5.00zM449.97 265.33l2.50 4.50h-5.00zM450.01 265.68l2.50 4.50h-5.00zM450.05 266.03l2.50 4.50h-5.00zM450.09 266.38l2.50 4.50h-5.00zM450.13 266.73l2.50 4.50h-5.00zM450.17 267.07l2.50 4.50h-5.00zM450.21 267.42l2.50 4.50h-5.00zM450.25 267.77l2.50 4.50h-5.00zM450.28 268.12l2.50 4.50h-5.00zM450.32 268.46l2.50 4.50h-5.00zM450.36 268.81l2.50 4.50h-5.00zM450.39 269.16l2.50 4.50h-5.00zM450.43 269.51l2.50 4.50h-5.00zM450.47 269.86l2.50 4.50h-5.00zM450.50 270.20l2.50 4.50h-5.00zM450.54 270.55l2.50 4.50h-5.00zM450.58 270.90l2.50 4.50h-5.00zM450.62 271.25l2.50 4.50h-5.00zM450.65 271.60l2.50 4.50h-5.00zM450.69 271.94l2.50 4.50h-5.00zM450.73 272.29l2.50 4.50h-5.00zM450.76 272.64l2.50 4.50h-5.00zM450.80 272.99l2.50 4.50h-5.00zM450.84 273.34l2.50 4.50h-5.00zM450.87 273.68l2.50 4.50h-5.00zM450.91 274.03l2.50 4.50h-5.00zM450.94 274.38l2.50 4.50h-5.00zM450.98 274.73l2.50 4.50h-5.00zM451.02 275.08l2.50 4.50h-5.00zM451.05 275.43l2.50 4.50h-5.00zM451.09 275.77l2.50 4.50h-5.00zM451.13 276.12l2.50 4.50h-5.00zM451.16 276.47l2.50 4.50h-5.00zM451.20 276.82l2.50 4.50h-5.00zM451.23 277.17l2.50 4.50h-5.00zM451.27 277.51l2.50 4.50h-5.00zM451.31 277.86l2.50 4.50h-5.00zM451.34 278.21l2.50 4.50h-5.00zM451.38 278.56l2.50 4.50h-5.00zM451.42 278.91l2.50 4.50h-5.00zM451.45 279.25l2.50 4.50h-5.00zM451.49 279.60l2.50 4.50h-5.00zM451.53 279.95l2.50 4.50h-5.00zM451.56 280.30l2.50 4.50h-5.00zM451.60 280.65l2.50 4.50h-5.00zM451.63 280.99l2.50 4.50h-5.00zM451.67 281.34l2.50 4.50h-5.00zM451.71 281.69l2.50 4.50h-5.00zM451.74 282.04l2.50 4.50h-5.00zM451.78 282.39l2.50 4.50h-5.00zM451.82 282.74l2.50 4.50h-5.00zM451.86 283.08l2.50 4.50h-5.00zM451.90 283.43l2.50 4.50h-5.00zM451.94 283.78l2.50 4.50h-5.00zM451.97 284.13l2.50 4.50h-5.00zM452.01 284.48l2.50 4.50h-5.00zM452.05 284.82l2.50 4.50h-5.00zM452.09 285.17l2.50 4.50h-5.00zM452.12 285.52l2.50 4.50h-5.00zM452.16 285.87l2.50 4.50h-5.00zM452.20 286.21l2.50 4.50h-5.00zM452.24 286.56l2.50 4.50h-5.00zM452.28 286.91l2.50 4.50h-5.00zM452.32 287.26l2.50 4.50h-5.00zM452.37 287.61l2.50 4.50h-5.00zM452.41 287.95l2.50 4.50h-5.00zM452.45 288.30l2.50 4.50h-5.00zM452.49 288.65l2.50 4.50h-5.00zM452.53 289.00l2.50 4.50h-5.00zM452.58 289.34l2.50 4.50h-5.00zM452.62 289.69l2.50 4.50h-5.00zM452.66 290.04l2.50 4.50h-5.00zM452.71 290.39l2.50 4.50h-5.00zM452.75 290.74l2.50 4.50h-5.00zM452.81 291.08l2.50 4.50h-5.00zM452.86 291.43l2.50 4.50h-5.00zM452.91 291.78l2.50 4.50h-5.00zM452.96 292.12l2.50 4.50h-5.00zM453.01 292.47l2.50 4.50h-5.00zM453.05 292.82l2.50 4.50h-5.00zM453.11 293.16l2.50 4.50h-5.00zM453.16 293.51l2.50 4.50h-5.00zM453.22 293.86l2.50 4.50h-5.00zM453.28 294.20l2.50 4.50h-5.00zM453.34 294.55l2.50 4.50h-5.00zM453.40 294.89l2.50 4.50h-5.00zM453.46 295.24l2.50 4.50h-5.00zM453.52 295.59l2.50 4.50h-5.00zM453.58 295.93l2.50 4.50h-5.00zM453.64 296.28l2.50 4.50h-5.00zM453.71 296.62l2.50 4.50h-5.00zM453.78 296.97l2.50 4.50h-5.00zM453.84 297.31l2.50 4.50h-5.00zM453.91 297.66l2.50 4.50h-5.00zM453.97 298.00l2.50 4.50h-5.00zM454.04 298.35l2.50 4.50h-5.00zM454.11 298.69l2.50 4.50h-5.00zM454.17 299.03l2.50 4.50h-5.00zM454.23 299.38l2.50 4.50h-5.00zM454.29 299.72l2.50 4.50h-5.00zM454.35 300.07l2.50 4.50h-5.00zM454.40 300.41l2.50 4.50h-5.00zM454.45 300.76l2.50 4.50h-5.00zM454.50 301.10l2.50 4.50h-5.00zM454.55 301.45l2.50 4.50h-5.00zM454.59 301.79l2.50 4.50h-5.00zM454.62 302.14l2.50 4.50h-5.00zM454.66 302.48l2.50 4.50h-5.00zM454.70 302.83l2.50 4.50h-5.00zM454.73 303.18l2.50 4.50h-5.00zM454.75 303.53l2.50 4.50h-5.00zM454.77 303.87l2.50 4.50h-5.00zM454.81 304.22l2.50 4.50h-5.00zM454.83 304.57l2.50 4.50h-5.00zM454.85 304.92l2.50 4.50h-5.00zM454.87 305.27l2.50 4.50h-5.00zM454.90 305.61l2.50 4.50h-5.00zM454.92 305.96l2.50 4.50h-5.00zM454.94 306.31l2.50 4.50h-5.00zM454.95 306.66l2.50 4.50h-5.00zM454.97 307.01l2.50 4.50h-5.00zM454.99 307.36l2.50 4.50h-5.00zM455.01 307.71l2.50 4.50h-5.00zM455.03 308.06l2.50 4.50h-5.00zM455.05 308.41l2.50 4.50h-5.00zM455.07 308.76l2.50 4.50h-5.00zM454.95 309.11l2.50 4.50h-5.00zM454.98 309.46l2.50 4.50h-5.00zM455.00 309.75l2.50 4.50h-5.00zM455.30 314.75l2.50 4.50h-5.00zM455.33 315.10l2.50 4.50h-5.00zM455.37 315.45l2.50 4.50h-5.00zM455.62 315.79l2.50 4.50h-5.00zM455.65 316.14l2.50 4.50h-5.00zM455.69 316.49l2.50 4.50h-5.00zM455.72 316.84l2.50 4.50h-5.00zM455.76 317.19l2.50 4.50h-5.00zM455.79 317.54l2.50 4.50h-5.00zM455.83 317.88l2.50 4.50h-5.00zM455.86 318.23l2.50 4.50h-5.00zM455.90 318.58l2.50 4.50h-5.00zM455.93 318.93l2.50 4.50h-5.00zM455.97 319.28l2.50 4.50h-5.00zM456.00 319.63l2.50 4.50h-5.00zM456.04 319.97l2.50 4.50h-5.00zM456.07 320.32l2.50 4.50h-5.00zM456.11 320.67l2.50 4.50h-5.00zM456.14 321.02l2.50 4.50h-5.00zM456.18 321.37l2.50 4.50h-5.00zM456.21 321.72l2.50 4.50h-5.00zM456.25 322.06l2.50 4.50h-5.00zM456.28 322.41l2.50 4.50h-5.00zM456.32 322.76l2.50 4.50h-5.00zM456.35 323.11l2.50 4.50h-5.00zM456.39 323.46l2.50 4.50h-5.00zM456.42 323.80l2.50 4.50h-5.00zM456.24 324.15l2.50 4.50h-5.00zM456.28 324.50l2.50 4.50h-5.00zM456.30 324.75l2.50 4.50h-5.00zM393.10 53.40l2.70 4.60h-5.40zM398.40 63.00l2.70 4.60h-5.40zM402.36 65.05l2.70 4.60h-5.40zM404.78 65.17l2.70 4.60h-5.40zM406.66 65.27l2.70 4.60h-5.40zM408.20 65.34l2.70 4.60h-5.40zM409.49 65.41l2.70 4.60h-5.40zM410.62 65.47l2.70 4.60h-5.40zM411.61 65.52l2.70 4.60h-5.40zM412.50 65.56l2.70 4.60h-5.40zM413.30 65.60l2.70 4.60h-5.40zM456.45 326.10l2.70 4.60h-5.40zM456.60 327.45l2.70 4.60h-5.40zM456.74 328.80l2.70 4.60h-5.40zM456.89 330.15l2.70 4.60h-5.40zM457.04 331.50l2.70 4.60h-5.40zM457.18 332.85l2.70 4.60h-5.40zM457.33 334.20l2.70 4.60h-5.40zM457.47 335.55l2.70 4.60h-5.40zM457.62 336.90l2.70 4.60h-5.40zM457.76 338.25l2.70 4.60h-5.40zM457.91 339.60l2.70 4.60h-5.40zM458.06 340.95l2.70 4.60h-5.40zM458.20 342.30l2.70 4.60h-5.40zM458.40 344.10l2.70 4.60h-5.40zM458.90 346.50l2.70 4.60h-5.40zM459.35 348.90l2.70 4.60h-5.40zM459.80 351.80l2.70 4.60h-5.40zM460.30 354.70l2.70 4.60h-5.40zM460.60 358.00l2.70 4.60h-5.40zM460.80 361.80l2.70 4.60h-5.40zM461.10 365.70l2.70 4.60h-5.40zM462.20 370.45l2.70 4.60h-5.40zM462.70 375.70l2.70 4.60h-5.40zM464.40 381.90l2.70 4.60h-5.40zM468.40 389.30l2.70 4.60h-5.40zM468.85 398.20l2.70 4.60h-5.40zM470.70 409.60l2.70 4.60h-5.40zM471.80 426.00l2.70 4.60h-5.40z" fill="#00BFFF"/>
<path d="M415.90 59.90h0M416.20 60.08h0M416.51 60.25h0M416.78 60.46h0M417.03 60.71h0M417.26 60.97h0M417.48 61.25h0M417.69 61.53h0M417.89 61.81h0M418.09 62.10h0M418.29 62.39h0M418.48 62.68h0M418.68 62.97h0M418.87 63.26h0M419.06 63.56h0M419.25 63.85h0M419.43 64.15h0M419.61 64.45h0M419.80 64.75h0M419.98 65.05h0M420.15 65.35h0M420.33 65.65h0M420.50 65.96h0M420.67 66.26h0M420.84 66.57h0M421.01 66.88h0M421.17 67.19h0M421.34 67.49h0M421.50 67.80h0M421.66 68.11h0M421.82 68.43h0M421.98 68.74h0M422.14 69.05h0M422.30 69.36h0M422.45 69.67h0M422.61 69.99h0M422.77 70.30h0M422.92 70.61h0M423.08 70.93h0M423.23 71.24h0M423.39 71.56h0M423.54 71.87h0M423.69 72.19h0M423.84 72.50h0M424.00 72.82h0M424.15 73.13h0M424.30 73.45h0M424.45 73.76h0M424.59 74.08h0M424.74 74.40h0M424.89 74.72h0M425.04 75.03h0M425.18 75.35h0M425.33 75.67h0M425.47 75.99h0M425.61 76.31h0M425.76 76.63h0M425.90 76.95h0M426.04 77.27h0M426.18 77.59h0M426.32 77.91h0M426.46 78.23h0M426.59 78.56h0M426.73 78.88h0M426.86 79.20h0M427.00 79.52h0M427.14 79.85h0M427.27 80.17h0M427.39 80.50h0M427.52 80.82h0M427.65 81.15h0M427.78 81.47h0M427.90 81.80h0M428.03 82.13h0M428.16 82.45h0M428.28 82.78h0M428.40 83.11h0M428.52 83.44h0M428.64 83.77h0M428.76 84.10h0M428.88 84.43h0M429.00 84.75h0M429.12 85.08h0M429.23 85.41h0M429.35 85.74h0M429.46 86.07h0M429.58 86.40h0M429.70 86.73h0M429.81 87.06h0M429.93 87.39h0M430.04 87.73h0M430.16 88.06h0M430.27 88.39h0M430.39 88.72h0M430.50 89.05h0M430.62 89.38h0M430.73 89.71h0M430.84 90.04h0M430.96 90.37h0M431.07 90.70h0M431.19 91.03h0M431.30 91.36h0M431.42 91.69h0M431.53 92.02h0M431.65 92.35h0M431.76 92.69h0M431.88 93.01h0M432.00 93.34h0M432.12 93.67h0M432.24 94.00h0M432.35 94.33h0M432.47 94.66h0M432.59 94.99h0M432.71 95.32h0M432.83 95.65h0M432.95 95.98h0M433.07 96.31h0M433.20 96.63h0M433.32 96.96h0M433.44 97.29h0M433.56 97.62h0M433.68 97.95h0M433.81 98.27h0M433.93 98.60h0M434.06 98.93h0M434.18 99.25h0M434.31 99.58h0M434.43 99.91h0M434.55 100.24h0M434.68 100.56h0M434.80 100.89h0M434.93 101.22h0M435.05 101.54h0M435.18 101.87h0M435.30 102.20h0M435.43 102.52h0M435.55 102.85h0M435.68 103.18h0M435.80 103.51h0M435.93 103.83h0M436.05 104.16h0M436.17 104.49h0M436.30 104.82h0M436.42 105.14h0M436.55 105.47h0M436.67 105.80h0M436.79 106.13h0M436.91 106.45h0M437.03 106.78h0M437.15 107.11h0M437.28 107.44h0M437.40 107.77h0M437.52 108.10h0M437.64 108.42h0M437.75 108.75h0M437.87 109.09h0M437.99 109.42h0M438.10 109.75h0M438.22 110.08h0M438.33 110.41h0M438.44 110.74h0M438.55 111.07h0M438.66 111.40h0M438.76 111.74h0M438.87 112.07h0M438.98 112.40h0M439.08 112.74h0M439.18 113.08h0M439.28 113.41h0M439.37 113.75h0M439.47 114.08h0M439.57 114.42h0M439.66 114.76h0M439.75 115.10h0M439.84 115.44h0M439.93 115.77h0M440.01 116.11h0M440.10 116.45h0M440.18 116.79h0M440.27 117.13h0M440.36 117.47h0M440.44 117.81h0M440.52 118.15h0M440.61 118.49h0M440.69 118.83h0M440.78 119.17h0M440.87 119.51h0M440.96 119.84h0M441.05 120.18h0M441.14 120.52h0M441.24 120.86h0M441.33 121.19h0M441.43 121.53h0M441.53 121.87h0M441.62 122.20h0M441.71 122.54h0M441.81 122.88h0M441.89 123.22h0M441.98 123.56h0M442.07 123.89h0M442.15 124.23h0M442.24 124.57h0M442.33 124.91h0M442.41 125.25h0M442.50 125.59h0M442.58 125.93h0M442.67 126.27h0M442.76 126.61h0M442.84 126.95h0M442.93 127.29h0M443.02 127.63h0M443.10 127.97h0M443.19 128.30h0M443.28 128.64h0M443.36 128.98h0M443.45 129.32h0M443.54 129.66h0M443.63 130.00h0M443.71 130.34h0M443.80 130.68h0M443.89 131.02h0M443.98 131.36h0M444.06 131.69h0M444.15 132.03h0M444.24 132.37h0M444.32 132.71h0M444.41 133.05h0M444.50 133.39h0M444.58 133.73h0M444.67 134.07h0M444.76 134.41h0M444.84 134.75h0M444.93 135.09h0M445.01 135.43h0M445.10 135.77h0M445.18 136.10h0M445.26 136.44h0M445.35 136.78h0M445.43 137.12h0M445.52 137.46h0M445.60 137.80h0M445.69 138.14h0M445.77 138.48h0M445.85 138.82h0M445.94 139.16h0M446.02 139.50h0M446.10 139.84h0M446.18 140.18h0M446.26 140.52h0M446.34 140.86h0M446.42 141.20h0M446.51 141.55h0M446.59 141.89h0M446.67 142.23h0M446.74 142.57h0M446.82 142.91h0M446.90 143.25h0M446.97 143.59h0M447.05 143.93h0M447.13 144.28h0M447.20 144.62h0M447.28 144.96h0M447.36 145.30h0M447.43 145.64h0M447.50 145.99h0M447.56 146.33h0M447.63 146.67h0M447.70 147.02h0M447.76 147.36h0M447.83 147.70h0M447.90 148.05h0M447.97 148.39h0M448.03 148.73h0M448.09 149.08h0M448.15 149.42h0M448.20 149.77h0M448.26 150.12h0M448.32 150.46h0M448.38 150.81h0M448.44 151.15h0M448.49 151.50h0M448.55 151.84h0M448.60 152.19h0M448.66 152.53h0M448.71 152.88h0M448.76 153.22h0M448.82 153.57h0M448.87 153.92h0M448.93 154.26h0M448.98 154.61h0M449.03 154.95h0M449.09 155.30h0M449.15 155.65h0M449.20 155.99h0M449.26 156.34h0M449.31 156.68h0M449.37 157.03h0M449.42 157.37h0M449.48 157.72h0M449.54 158.06h0M449.60 158.41h0M449.66 158.75h0M449.73 159.10h0M449.79 159.44h0M449.85 159.79h0M449.91 160.13h0M449.97 160.47h0M450.04 160.82h0M450.10 161.16h0M450.17 161.51h0M450.24 161.85h0M450.31 162.19h0M450.39 162.53h0M450.46 162.88h0M450.53 163.22h0M450.60 163.56h0M450.67 163.90h0M450.74 164.25h0M450.81 164.59h0M450.89 164.93h0M450.96 165.27h0M451.05 165.61h0M451.13 165.95h0M451.21 166.29h0M451.29 166.63h0M451.37 166.98h0M451.45 167.32h0M451.53 167.66h0M451.61 168.00h0M451.69 168.34h0M451.77 168.68h0M451.85 169.02h0M451.94 169.36h0M452.02 169.70h0M452.11 170.04h0M452.19 170.38h0M452.28 170.72h0M452.37 171.06h0M452.45 171.39h0M452.54 171.73h0M452.62 172.07h0M452.71 172.41h0M452.80 172.75h0M452.88 173.09h0M452.97 173.43h0M453.06 173.77h0M453.14 174.11h0M453.23 174.45h0M453.32 174.79h0M453.41 175.12h0M453.49 175.46h0M453.58 175.80h0M453.67 176.14h0M453.76 176.48h0M453.85 176.82h0M453.94 177.16h0M454.03 177.49h0M454.12 177.83h0M454.20 178.17h0M454.29 178.51h0M454.38 178.85h0M454.47 179.19h0M454.56 179.53h0M454.65 179.86h0M454.74 180.20h0M454.82 180.54h0M454.91 180.88h0M455.00 181.22h0M455.09 181.56h0M455.18 181.90h0M455.27 182.23h0M455.36 182.57h0M455.44 182.91h0M455.53 183.25h0M455.62 183.59h0M455.71 183.93h0M455.80 184.27h0M455.89 184.61h0M455.98 184.94h0M456.06 185.28h0M456.15 185.62h0M456.24 185.96h0M456.32 186.30h0M456.41 186.64h0M456.50 186.98h0M456.58 187.32h0M456.67 187.66h0M456.75 188.00h0M456.84 188.34h0M456.93 188.67h0M457.01 189.01h0M457.10 189.35h0M457.18 189.69h0M457.27 190.03h0M457.36 190.37h0M457.44 190.71h0M457.52 191.05h0M457.60 191.39h0M457.68 191.73h0M457.77 192.07h0M457.85 192.41h0M457.93 192.75h0M458.01 193.09h0M458.09 193.43h0M458.17 193.78h0M458.25 194.12h0M458.33 194.46h0M458.41 194.80h0M458.49 195.14h0M458.57 195.48h0M458.65 195.82h0M458.72 196.16h0M458.80 196.50h0M458.87 196.85h0M458.94 197.19h0M459.02 197.53h0M459.09 197.87h0M459.17 198.21h0M459.24 198.56h0M459.31 198.90h0M459.39 199.24h0M459.46 199.58h0M459.54 199.93h0M459.61 200.27h0M459.67 200.61h0M459.74 200.95h0M459.81 201.30h0M459.88 201.64h0M459.95 201.98h0M460.02 202.33h0M460.09 202.67h0M460.16 203.01h0M460.23 203.36h0M460.30 203.70h0M460.37 204.04h0M460.43 204.39h0M460.50 204.73h0M460.56 205.07h0M460.63 205.42h0M460.69 205.76h0M460.76 206.11h0M460.82 206.45h0M460.89 206.79h0M460.95 207.14h0M461.02 207.48h0M461.08 207.82h0M461.15 208.17h0M461.21 208.51h0M461.27 208.86h0M461.33 209.20h0M461.39 209.55h0M461.45 209.89h0M461.52 210.24h0M461.58 210.58h0M461.64 210.93h0M461.70 211.27h0M461.76 211.61h0M461.82 211.96h0M461.88 212.30h0M461.94 212.65h0M462.00 212.99h0M462.06 213.34h0M462.12 213.68h0M462.18 214.03h0M462.24 214.37h0M462.30 214.72h0M462.36 215.06h0M462.42 215.41h0M462.48 215.75h0M462.54 216.10h0M462.60 216.44h0M462.65 216.79h0M462.71 217.13h0M462.77 217.48h0M462.83 217.82h0M462.89 218.17h0M462.95 218.51h0M463.01 218.86h0M463.06 219.20h0M463.12 219.55h0M463.18 219.89h0M463.24 220.24h0M463.30 220.58h0M463.35 220.93h0M463.41 221.28h0M463.46 221.62h0M463.52 221.97h0M463.58 222.31h0M463.63 222.66h0M463.69 223.00h0M463.75 223.35h0M463.80 223.69h0M463.86 224.04h0M463.91 224.38h0M463.97 224.73h0M464.02 225.08h0M464.07 225.42h0M464.12 225.77h0M464.18 226.11h0M464.23 226.46h0M464.28 226.81h0M464.34 227.15h0M464.39 227.50h0M464.44 227.84h0M464.49 228.19h0M464.55 228.54h0M464.60 228.88h0M464.65 229.23h0M464.70 229.58h0M464.75 229.92h0M464.80 230.27h0M464.85 230.61h0M464.90 230.96h0M464.95 231.31h0M465.00 231.65h0M465.05 232.00h0M465.10 232.35h0M465.16 232.69h0M465.21 233.04h0M465.26 233.38h0M465.31 233.73h0M465.36 234.08h0M465.41 234.42h0M465.46 234.77h0M465.51 235.12h0M465.56 235.46h0M465.61 235.81h0M465.66 236.16h0M465.71 236.50h0M465.76 236.85h0M465.81 237.19h0M465.86 237.54h0M465.91 237.89h0M465.97 238.23h0M466.02 238.58h0M466.07 238.93h0M466.12 239.27h0M466.17 239.62h0M466.22 239.96h0M466.27 240.31h0M466.32 240.66h0M466.38 241.00h0M466.43 241.35h0M466.48 241.69h0M466.54 242.04h0M466.59 242.39h0M466.65 242.73h0M466.70 243.08h0M466.75 243.42h0M466.81 243.77h0M466.86 244.12h0M466.92 244.46h0M466.97 244.81h0M467.03 245.15h0M467.08 245.50h0M467.14 245.84h0M467.20 246.19h0M467.26 246.53h0M467.32 246.88h0M467.38 247.22h0M467.44 247.57h0M467.50 247.91h0M467.56 248.26h0M467.61 248.60h0M467.68 248.95h0M467.74 249.29h0M467.80 249.64h0M467.87 249.98h0M467.93 250.32h0M467.99 250.67h0M468.06 251.01h0M468.12 251.36h0M468.18 251.70h0M468.25 252.04h0M468.31 252.39h0M468.38 252.73h0M468.44 253.08h0M468.51 253.42h0M468.57 253.76h0M468.64 254.11h0M468.70 254.45h0M468.77 254.80h0M468.83 255.14h0M468.89 255.48h0M468.96 255.83h0M469.02 256.17h0M469.08 256.52h0M469.15 256.86h0M469.21 257.21h0M469.28 257.55h0M469.34 257.89h0M469.40 258.24h0M469.46 258.58h0M469.52 258.93h0M469.58 259.27h0M469.64 259.62h0M469.70 259.96h0M469.76 260.31h0M469.82 260.65h0M469.88 261.00h0M469.94 261.34h0M470.00 261.69h0M470.05 262.03h0M470.11 262.38h0M470.16 262.72h0M470.21 263.07h0M470.26 263.42h0M470.32 263.76h0M470.37 264.11h0M470.42 264.45h0M470.48 264.80h0M470.53 265.15h0M470.58 265.49h0M470.63 265.84h0M470.68 266.19h0M470.73 266.53h0M470.77 266.88h0M470.82 267.23h0M470.86 267.57h0M470.91 267.92h0M470.96 268.27h0M471.00 268.61h0M471.05 268.96h0M471.10 269.31h0M471.14 269.65h0M471.19 270.00h0M471.23 270.35h0M471.27 270.70h0M471.31 271.04h0M471.36 271.39h0M471.40 271.74h0M471.44 272.09h0M471.48 272.43h0M471.53 272.78h0M471.57 273.13h0M471.61 273.48h0M471.65 273.82h0M471.69 274.17h0M471.74 274.52h0M471.78 274.87h0M471.82 275.21h0M471.86 275.56h0M471.90 275.91h0M471.94 276.26h0M471.98 276.60h0M472.02 276.95h0M472.06 277.30h0M472.10 277.65h0M472.14 278.00h0M472.18 278.34h0M472.21 278.69h0M472.25 279.04h0M472.29 279.39h0M472.33 279.73h0M472.37 280.08h0M472.41 280.43h0M472.45 280.78h0M472.49 281.13h0M472.53 281.47h0M472.57 281.82h0M472.61 282.17h0M472.65 282.52h0M472.69 282.86h0M472.73 283.21h0M472.77 283.56h0M472.81 283.91h0M472.84 284.26h0M472.88 284.60h0M472.93 284.95h0M472.97 285.30h0M473.01 285.65h0M473.05 285.99h0M473.09 286.34h0M473.13 286.69h0M473.17 287.04h0M473.21 287.38h0M473.25 287.73h0M473.29 288.08h0M473.33 288.43h0M473.37 288.78h0M473.41 289.12h0M473.45 289.47h0M473.50 289.82h0M473.54 290.16h0M473.58 290.51h0M473.62 290.86h0M473.67 291.21h0M473.71 291.55h0M473.75 291.90h0M473.80 292.25h0M473.84 292.60h0M473.88 292.94h0M473.93 293.29h0M473.97 293.64h0M474.02 293.99h0M474.06 294.33h0M474.11 294.68h0M474.15 295.03h0M474.20 295.37h0M474.25 295.72h0M474.29 296.07h0M474.34 296.41h0M474.38 296.76h0M474.43 297.11h0M474.48 297.45h0M474.52 297.80h0M474.57 298.15h0M474.62 298.50h0M474.66 298.84h0M474.71 299.19h0M474.76 299.54h0M474.81 299.88h0M474.85 300.23h0M474.90 300.58h0M474.95 300.92h0M475.00 301.27h0M475.05 301.62h0M475.09 301.96h0M475.14 302.31h0M475.19 302.66h0M475.24 303.00h0M475.29 303.35h0M475.34 303.70h0M475.39 304.04h0M475.43 304.39h0M475.48 304.74h0M475.53 305.08h0M475.58 305.43h0M475.63 305.77h0M475.68 306.12h0M475.73 306.47h0M475.78 306.81h0M475.83 307.16h0M475.88 307.51h0M475.93 307.85h0M475.98 308.20h0M476.03 308.55h0M476.09 308.89h0M476.14 309.24h0M476.19 309.58h0M476.24 309.93h0M476.29 310.28h0M476.34 310.62h0M476.39 310.97h0M476.44 311.32h0M476.50 311.66h0M476.55 312.01h0M476.60 312.35h0M476.65 312.70h0M476.70 313.05h0M476.76 313.39h0M476.81 313.74h0M476.86 314.08h0M476.91 314.43h0M476.97 314.78h0M477.02 315.12h0M477.08 315.47h0M477.13 315.81h0M477.19 316.16h0M477.24 316.50h0M477.30 316.85h0M477.36 317.20h0M477.41 317.54h0M477.47 317.89h0M477.53 318.23h0M477.59 318.58h0M477.65 318.92h0M477.71 319.27h0M477.77 319.61h0M477.83 319.95h0M477.89 320.30h0M477.95 320.64h0M478.01 320.99h0M478.08 321.33h0M478.14 321.68h0M478.20 322.02h0M478.27 322.37h0M478.33 322.71h0M478.39 323.05h0M478.45 323.40h0M478.52 323.74h0M478.58 324.09h0M478.64 324.43h0M478.70 324.78h0M478.76 325.12h0M478.82 325.47h0M478.88 325.81h0M478.95 326.16h0M479.00 326.50h0M479.06 326.85h0M479.12 327.19h0M479.17 327.54h0M479.23 327.88h0M479.28 328.23h0M479.34 328.57h0M479.40 328.92h0M479.44 329.27h0M479.49 329.61h0M479.54 329.96h0M479.59 330.31h0M479.64 330.65h0M479.69 331.00h0M479.74 331.35h0M479.78 331.69h0M479.83 332.04h0M479.87 332.39h0M479.91 332.73h0M479.95 333.08h0M479.99 333.43h0M480.04 333.78h0M480.08 334.12h0M480.12 334.47h0M480.16 334.82h0M480.20 335.17h0M480.24 335.51h0M480.27 335.86h0M480.31 336.21h0M480.35 336.56h0M480.38 336.91h0M480.42 337.26h0M480.46 337.60h0M480.50 337.95h0M480.53 338.30h0M480.57 338.65h0M480.60 339.00h0M480.64 339.34h0M480.67 339.69h0M480.70 340.04h0M480.74 340.39h0M480.77 340.74h0M480.80 341.09h0M480.84 341.43h0M480.87 341.78h0M480.90 342.13h0M480.93 342.48h0M480.97 342.83h0M481.00 343.18h0M481.03 343.53h0M481.06 343.87h0M481.09 344.22h0M481.12 344.57h0M481.15 344.92h0M481.18 345.27h0M481.21 345.62h0M481.24 345.97h0M481.27 346.32h0M481.30 346.66h0M481.32 347.01h0M481.35 347.36h0M481.38 347.71h0M481.41 348.06h0M481.44 348.41h0M481.47 348.76h0M481.49 349.11h0M481.52 349.46h0M481.54 349.80h0M481.57 350.15h0M481.60 350.50h0M481.62 350.85h0M481.65 351.20h0M481.67 351.55h0M481.70 351.90h0M481.72 352.25h0M481.74 352.60h0M481.76 352.95h0M481.78 353.30h0M481.81 353.65h0M481.83 353.99h0M481.85 354.34h0M481.87 354.69h0M481.88 355.04h0M481.90 355.39h0M481.91 355.74h0M481.93 356.09h0M481.94 356.44h0M481.96 356.79h0M481.97 357.14h0M481.99 357.49h0M482.00 357.84h0M482.01 358.19h0M482.02 358.54h0M482.03 358.89h0M482.04 359.24h0M482.05 359.59h0M482.06 359.94h0M482.07 360.29h0M482.07 360.64h0M482.08 360.99h0M482.09 361.34h0M482.10 361.69h0M482.11 362.04h0M482.11 362.39h0M482.12 362.74h0M482.13 363.09h0M482.13 363.44h0M482.14 363.79h0M482.15 364.14h0M482.16 364.49h0M482.17 364.84h0M482.18 365.19h0M482.19 365.54h0M482.20 365.89h0M482.21 366.24h0M482.22 366.59h0M482.23 366.94h0M482.24 367.29h0M482.25 367.64h0M482.27 367.99h0M482.28 368.34h0M482.29 368.69h0M482.30 369.04h0M482.31 369.39h0M482.32 369.74h0M482.33 370.09h0M482.34 370.44h0M482.35 370.79h0M482.36 371.14h0M482.37 371.49h0M482.38 371.84h0M482.40 372.19h0M482.41 372.54h0M482.42 372.89h0M482.43 373.23h0M482.44 373.58h0M482.45 373.93h0M482.45 374.00h0" fill="none" stroke="#FF7F50" stroke-width="5.00" stroke-linecap="round"/>
<path d="M393.10 56.40h0M399.40 59.00h0M402.36 59.45h0M404.78 59.53h0M406.66 59.59h0M408.20 59.64h0M409.49 59.69h0M410.62 59.72h0M411.61 59.76h0M412.50 59.79h0M413.30 59.81h0M414.04 59.84h0M414.71 59.86h0M415.33 59.88h0M415.92 59.90h0M482.55 376.20h0M482.70 378.80h0M483.20 382.40h0M483.85 385.80h0M484.80 390.40h0M486.05 395.60h0M487.20 401.80h0M489.20 409.20h0M494.60 419.20h0M495.60 433.00h0M497.80 456.20h0" fill="none" stroke="#FF7F50" stroke-width="4.40" stroke-linecap="round"/>
<path d="M399.20 441.10l3 5.4h-6z" fill="#00BFFF"/>
<circle cx="399.20" cy="456.60" r="2.65" fill="#FF7F50"/>
<text class="g" x="407.80" y="448.80">scientific news</text>
<text class="g" x="407.80" y="460.80">alternative news</text>
<rect x="389.40" y="40.50" width="112.95" height="432.00" fill="none" stroke="#000" stroke-width="1.35"/>
<g transform="translate(387.90 485.20)" fill="none" stroke="#111" stroke-width="0.85"><path d="M0.35 -4.85L1.85 -6.35V0"/><ellipse cx="5.9" cy="-3.3" rx="1.55" ry="2.9"/></g><text font-size="6.40" x="396.40" y="480.60">0</text>
<g transform="translate(407.30 485.20)" fill="none" stroke="#111" stroke-width="0.85"><path d="M0.35 -4.85L1.85 -6.35V0"/><ellipse cx="5.9" cy="-3.3" rx="1.55" ry="2.9"/></g><text font-size="6.40" x="415.80" y="480.60">1</text>
<g transform="translate(426.70 485.20)" fill="none" stroke="#111" stroke-width="0.85"><path d="M0.35 -4.85L1.85 -6.35V0"/><ellipse cx="5.9" cy="-3.3" rx="1.55" ry="2.9"/></g><text font-size="6.40" x="435.20" y="480.60">2</text>
<g transform="translate(446.10 485.20)" fill="none" stroke="#111" stroke-width="0.85"><path d="M0.35 -4.85L1.85 -6.35V0"/><ellipse cx="5.9" cy="-3.3" rx="1.55" ry="2.9"/></g><text font-size="6.40" x="454.60" y="480.60">3</text>
<g transform="translate(465.50 485.20)" fill="none" stroke="#111" stroke-width="0.85"><path d="M0.35 -4.85L1.85 -6.35V0"/><ellipse cx="5.9" cy="-3.3" rx="1.55" ry="2.9"/></g><text font-size="6.40" x="474.00" y="480.60">4</text>
<g transform="translate(484.90 485.20)" fill="none" stroke="#111" stroke-width="0.85"><path d="M0.35 -4.85L1.85 -6.35V0"/><ellipse cx="5.9" cy="-3.3" rx="1.55" ry="2.9"/></g><text font-size="6.40" x="493.40" y="480.60">5</text>
<g transform="translate(372.84 60.60)" fill="none" stroke="#111" stroke-width="0.85"><path d="M0.35 -4.85L1.85 -6.35V0"/><ellipse cx="5.9" cy="-3.3" rx="1.55" ry="2.9"/></g><text font-size="6.40" x="381.34" y="56.60">0</text>
<g transform="translate(369.10 153.00)" fill="none" stroke="#111" stroke-width="0.85"><path d="M0.35 -4.85L1.85 -6.35V0"/><ellipse cx="5.9" cy="-3.3" rx="1.55" ry="2.9"/></g><text font-size="6.40" x="377.60" y="149.00">−1</text>
<g transform="translate(369.10 245.40)" fill="none" stroke="#111" stroke-width="0.85"><path d="M0.35 -4.85L1.85 -6.35V0"/><ellipse cx="5.9" cy="-3.3" rx="1.55" ry="2.9"/></g><text font-size="6.40" x="377.60" y="241.40">−2</text>
<g transform="translate(369.10 337.80)" fill="none" stroke="#111" stroke-width="0.85"><path d="M0.35 -4.85L1.85 -6.35V0"/><ellipse cx="5.9" cy="-3.3" rx="1.55" ry="2.9"/></g><text font-size="6.40" x="377.60" y="333.80">−3</text>
<g transform="translate(369.10 430.20)" fill="none" stroke="#111" stroke-width="0.85"><path d="M0.35 -4.85L1.85 -6.35V0"/><ellipse cx="5.9" cy="-3.3" rx="1.55" ry="2.9"/></g><text font-size="6.40" x="377.60" y="426.20">−4</text>
<text class="a" x="445.88" y="500.30" text-anchor="middle">shares</text>
</svg>
</body></html>
